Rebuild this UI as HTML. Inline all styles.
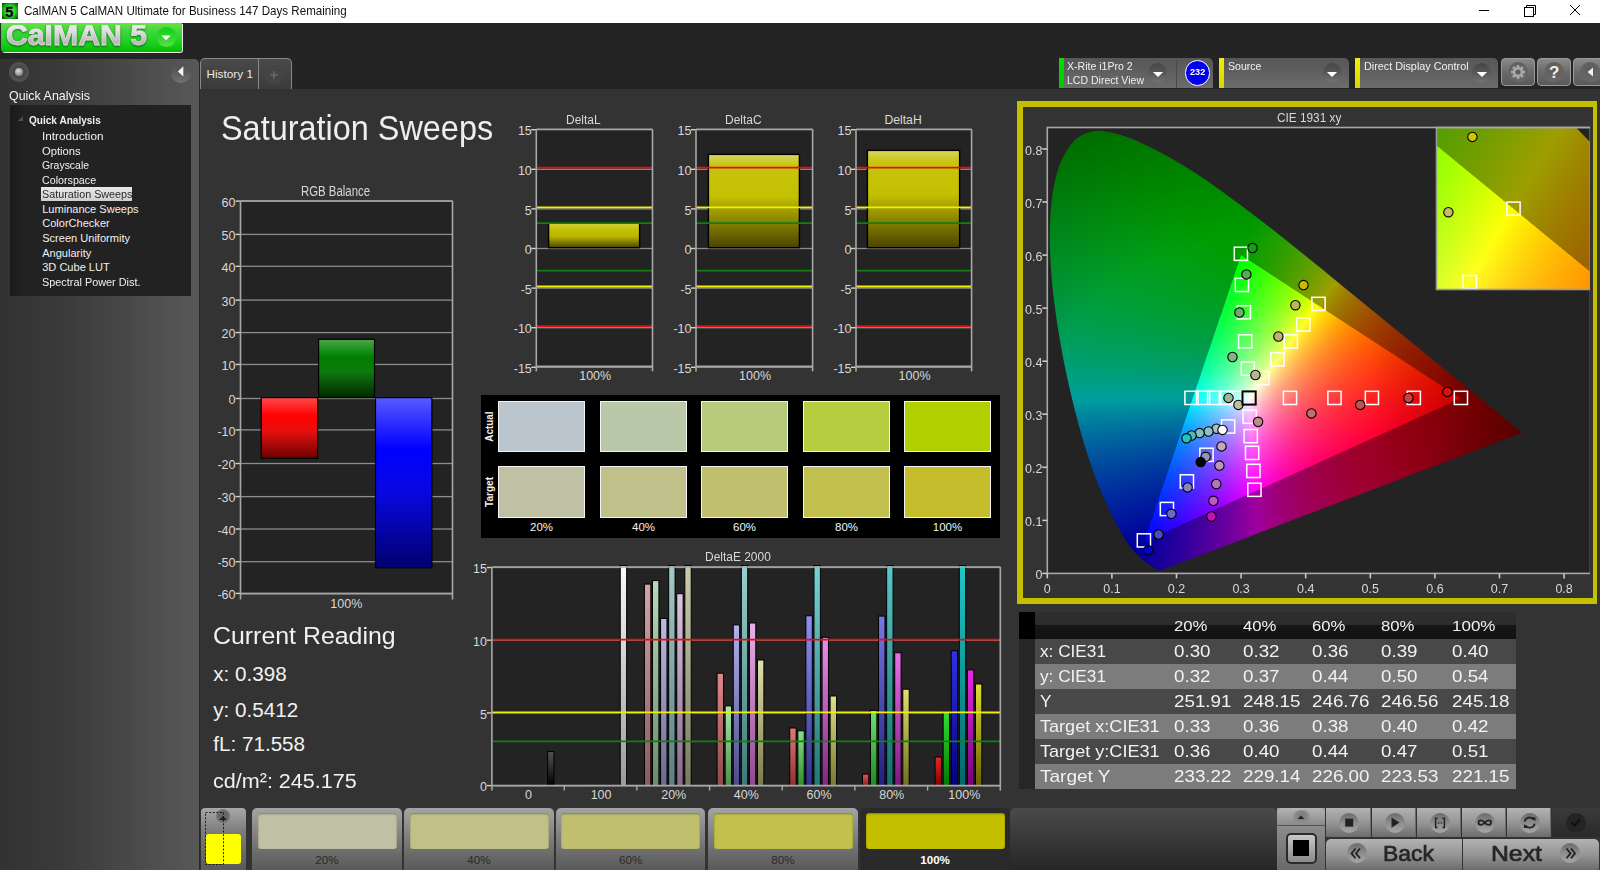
<!DOCTYPE html>
<html><head><meta charset="utf-8"><style>
html,body{margin:0;padding:0;width:1600px;height:870px;overflow:hidden;background:#242424;}
body{position:relative;font-family:"Liberation Sans",sans-serif;}
.t{position:absolute;white-space:nowrap;line-height:1;}
</style></head><body>
<div style="position:absolute;left:0.00px;top:0.00px;width:1600.00px;height:23.00px;background:#fff"></div>
<div style="position:absolute;left:2.00px;top:3.00px;width:16.00px;height:16.00px;background:radial-gradient(circle,#2ee02e 40%,#0a900a 75%,#063a06)"></div>
<div class="t" style="left:5.20px;top:4.53px;font-size:14.50px;color:#000;font-weight:bold;-webkit-text-stroke:0.4px #000;text-shadow:0 0 1.5px #8f8;">5</div>
<div class="t" style="left:24.00px;top:5.07px;font-size:12.79px;color:#111;transform:scaleX(0.9069);transform-origin:0 0;">CalMAN 5 CalMAN Ultimate for Business 147 Days Remaining</div>
<div style="position:absolute;left:1479.00px;top:10.00px;width:10.00px;height:1.00px;background:#000"></div>
<svg style="position:absolute;left:1520px;top:2px" width="20" height="20"><rect x="4.5" y="5.5" width="9" height="9" fill="none" stroke="#000"/><path d="M6.5 5.5V3.5H15.5V12.5H13.5" fill="none" stroke="#000"/></svg>
<svg style="position:absolute;left:1565px;top:0px" width="20" height="20"><path d="M5 5L15 15M15 5L5 15" stroke="#000" stroke-width="1"/></svg>
<div style="position:absolute;left:1.00px;top:23.00px;width:181.00px;height:29.00px;background:linear-gradient(#68e048,#3cd83c 30%,#18cc18 75%,#00bc00);border-radius:0 0 3px 3px;box-shadow:1px 1px 0 #e8e8e8"></div>
<div style="position:absolute;left:1px;top:24.5px;width:182px;height:27px;overflow:hidden"><div class="t" style="left:5.00px;top:-5.55px;font-size:29.00px;color:transparent;font-weight:bold;transform:scaleX(1.0417);transform-origin:0 0;background:linear-gradient(#fafafa 0%,#e4e4e4 35%,#b8b8b8 75%,#d8d8d8 100%);-webkit-background-clip:text;background-clip:text;-webkit-text-stroke:0.8px rgba(235,235,235,0.5);filter:drop-shadow(0 1px 1px rgba(0,0,0,0.5));padding-top:2px;">CalMAN 5</div></div>
<div style="position:absolute;left:156.50px;top:27.00px;width:19.50px;height:20.00px;border-radius:50%;background:linear-gradient(#12d012,#30d830 55%,#5ee048)"></div>
<svg style="position:absolute;left:156px;top:27px" width="20" height="20"><path d="M5.3 8.6L14.7 8.6L10 13.2Z" fill="#fff"/></svg>
<div style="position:absolute;left:0.00px;top:58.80px;width:199.00px;height:812.00px;background:linear-gradient(90deg,#323232,#3a3a3a 30%,#585858);border-radius:0 5px 0 0"></div>
<div style="position:absolute;left:199.00px;top:58.00px;width:1.00px;height:812.00px;background:#262626"></div>
<div style="position:absolute;left:9.00px;top:62.00px;width:20.00px;height:20.00px;border-radius:50%;background:radial-gradient(circle at 50% 50%,#444 30%,#555 70%,#4a4a4a)"></div>
<div style="position:absolute;left:15.00px;top:68.00px;width:8.00px;height:8.00px;border-radius:50%;background:radial-gradient(circle at 40% 35%,#ddd,#888 70%)"></div>
<div style="position:absolute;left:171.00px;top:63.00px;width:20.00px;height:20.00px;border-radius:50%;background:linear-gradient(#505050,#5c5c5c 50%,#727272)"></div>
<svg style="position:absolute;left:171px;top:62px" width="20" height="20"><path d="M12.3 4.3L12.3 14.5L6.9 9.4Z" fill="#f4f4f4"/></svg>
<div class="t" style="left:9.20px;top:90.37px;font-size:12.79px;color:#f4f4f4;transform:scaleX(0.9739);transform-origin:0 0;">Quick Analysis</div>
<div style="position:absolute;left:10.00px;top:105.00px;width:181.00px;height:191.00px;background:linear-gradient(90deg,#1a1a1a,#222 8%,#222)"></div>
<svg style="position:absolute;left:17px;top:114px" width="8" height="8"><path d="M6 2L6 7L1 7Z" fill="#505050"/></svg>
<div class="t" style="left:29.00px;top:114.03px;font-size:11.77px;color:#f0f0f0;font-weight:bold;transform:scaleX(0.8550);transform-origin:0 0;">Quick Analysis</div>
<div class="t" style="left:42.20px;top:130.95px;font-size:11.05px;color:#f0f0f0;transform:scaleX(1.0654);transform-origin:0 0;">Introduction</div>
<div class="t" style="left:42.20px;top:145.53px;font-size:11.05px;color:#f0f0f0;transform:scaleX(1.0166);transform-origin:0 0;">Options</div>
<div class="t" style="left:42.20px;top:160.11px;font-size:11.05px;color:#f0f0f0;transform:scaleX(0.9452);transform-origin:0 0;">Grayscale</div>
<div class="t" style="left:42.20px;top:174.69px;font-size:11.05px;color:#f0f0f0;transform:scaleX(0.9682);transform-origin:0 0;">Colorspace</div>
<div style="position:absolute;left:41.00px;top:187.00px;width:91.00px;height:14.00px;background:linear-gradient(#e8e8e8,#d0d0d0)"></div>
<div class="t" style="left:42.20px;top:189.27px;font-size:11.05px;color:#2a2a2a;transform:scaleX(0.9760);transform-origin:0 0;">Saturation Sweeps</div>
<div class="t" style="left:42.20px;top:203.85px;font-size:11.05px;color:#f0f0f0;">Luminance Sweeps</div>
<div class="t" style="left:42.20px;top:218.43px;font-size:11.05px;color:#f0f0f0;">ColorChecker</div>
<div class="t" style="left:42.20px;top:233.01px;font-size:11.05px;color:#f0f0f0;">Screen Uniformity</div>
<div class="t" style="left:42.20px;top:247.59px;font-size:11.05px;color:#f0f0f0;">Angularity</div>
<div class="t" style="left:42.20px;top:262.17px;font-size:11.05px;color:#f0f0f0;">3D Cube LUT</div>
<div class="t" style="left:42.20px;top:276.75px;font-size:11.05px;color:#f0f0f0;transform:scaleX(0.9843);transform-origin:0 0;">Spectral Power Dist.</div>
<div style="position:absolute;left:200.00px;top:89.00px;width:1400.00px;height:781.00px;background:#333"></div>
<div style="position:absolute;left:200.00px;top:58.00px;width:92.00px;height:31.00px;background:linear-gradient(#4a4a4a,#3a3a3a);border:1px solid #888;border-bottom:none;border-radius:5px 5px 0 0;box-sizing:border-box"></div>
<div style="position:absolute;left:258.00px;top:59.00px;width:1.00px;height:30.00px;background:#8a8a8a"></div>
<div class="t" style="left:206.50px;top:68.03px;font-size:11.77px;color:#e8e8e8;">History 1</div>
<div style="position:absolute;left:264.00px;top:65.00px;width:20.00px;height:20.00px;border-radius:50%;background:#444"></div>
<svg style="position:absolute;left:264px;top:65px" width="20" height="20"><path d="M10 6V14M6 10H14" stroke="#777" stroke-width="1"/></svg>
<div class="t" style="left:220.70px;top:110.12px;font-size:35.17px;color:#eeeeee;transform:scaleX(0.9222);transform-origin:0 0;">Saturation Sweeps</div>
<div class="t" style="left:300.90px;top:184.14px;font-size:14.24px;color:#d8d8d8;transform:scaleX(0.8007);transform-origin:0 0;">RGB Balance</div>
<svg style="position:absolute;left:200px;top:180px" width="270" height="440" viewBox="200 180 270 440">
<rect x="240.5" y="201.0" width="212.0" height="392.6" fill="#232323"/>
<rect x="240.5" y="200.45" width="212.0" height="1.3" fill="#8c8c8c"/>
<rect x="235.5" y="200.40" width="5" height="1.4" fill="#d0d0d0"/>
<rect x="240.5" y="233.75" width="212.0" height="1.3" fill="#8c8c8c"/>
<rect x="235.5" y="233.70" width="5" height="1.4" fill="#d0d0d0"/>
<rect x="240.5" y="265.65" width="212.0" height="1.3" fill="#8c8c8c"/>
<rect x="235.5" y="265.60" width="5" height="1.4" fill="#d0d0d0"/>
<rect x="240.5" y="299.45" width="212.0" height="1.3" fill="#8c8c8c"/>
<rect x="235.5" y="299.40" width="5" height="1.4" fill="#d0d0d0"/>
<rect x="240.5" y="331.95" width="212.0" height="1.3" fill="#8c8c8c"/>
<rect x="235.5" y="331.90" width="5" height="1.4" fill="#d0d0d0"/>
<rect x="240.5" y="363.80" width="212.0" height="1.3" fill="#8c8c8c"/>
<rect x="235.5" y="363.75" width="5" height="1.4" fill="#d0d0d0"/>
<rect x="240.5" y="397.85" width="212.0" height="1.3" fill="#8c8c8c"/>
<rect x="235.5" y="397.80" width="5" height="1.4" fill="#d0d0d0"/>
<rect x="240.5" y="429.25" width="212.0" height="1.3" fill="#8c8c8c"/>
<rect x="235.5" y="429.20" width="5" height="1.4" fill="#d0d0d0"/>
<rect x="240.5" y="462.85" width="212.0" height="1.3" fill="#8c8c8c"/>
<rect x="235.5" y="462.80" width="5" height="1.4" fill="#d0d0d0"/>
<rect x="240.5" y="495.95" width="212.0" height="1.3" fill="#8c8c8c"/>
<rect x="235.5" y="495.90" width="5" height="1.4" fill="#d0d0d0"/>
<rect x="240.5" y="528.35" width="212.0" height="1.3" fill="#8c8c8c"/>
<rect x="235.5" y="528.30" width="5" height="1.4" fill="#d0d0d0"/>
<rect x="240.5" y="561.05" width="212.0" height="1.3" fill="#8c8c8c"/>
<rect x="235.5" y="561.00" width="5" height="1.4" fill="#d0d0d0"/>
<rect x="240.5" y="592.75" width="212.0" height="1.3" fill="#8c8c8c"/>
<rect x="235.5" y="592.70" width="5" height="1.4" fill="#d0d0d0"/>
<linearGradient id="gr" x1="0" y1="0" x2="0" y2="1"><stop offset="0" stop-color="#ff4a4a"/><stop offset="0.3" stop-color="#ff0000"/><stop offset="0.55" stop-color="#e81010"/><stop offset="1" stop-color="#6a0000"/></linearGradient><rect x="261.2" y="397.6" width="56.4" height="60.7" fill="url(#gr)" stroke="#000" stroke-width="1.2"/>
<linearGradient id="gg" x1="0" y1="0" x2="0" y2="1"><stop offset="0" stop-color="#4aa84a"/><stop offset="0.3" stop-color="#008000"/><stop offset="0.55" stop-color="#0e7a0e"/><stop offset="1" stop-color="#002800"/></linearGradient><rect x="318.6" y="339.3" width="55.9" height="58.3" fill="url(#gg)" stroke="#000" stroke-width="1.2"/>
<linearGradient id="gb" x1="0" y1="0" x2="0" y2="1"><stop offset="0" stop-color="#5a5aff"/><stop offset="0.3" stop-color="#0000ff"/><stop offset="0.55" stop-color="#0808e0"/><stop offset="1" stop-color="#000070"/></linearGradient><rect x="375.5" y="397.6" width="56.4" height="170.2" fill="url(#gb)" stroke="#000" stroke-width="1.2"/>
<line x1="240.5" x2="240.5" y1="201.0" y2="599.6" stroke="#a8a8a8" stroke-width="1.6"/>
<line x1="452.5" x2="452.5" y1="201.0" y2="599.6" stroke="#a8a8a8" stroke-width="1.6"/>
<line x1="240.5" x2="452.5" y1="593.6" y2="593.6" stroke="#a8a8a8" stroke-width="1.6"/>
<line x1="240.5" x2="452.5" y1="201.0" y2="201.0" stroke="#a8a8a8" stroke-width="1.6"/>
</svg>
<div class="t" style="left:221.60px;top:196.72px;font-size:12.50px;color:#d8d8d8;">60</div>
<div class="t" style="left:221.60px;top:230.02px;font-size:12.50px;color:#d8d8d8;">50</div>
<div class="t" style="left:221.60px;top:261.92px;font-size:12.50px;color:#d8d8d8;">40</div>
<div class="t" style="left:221.60px;top:295.72px;font-size:12.50px;color:#d8d8d8;">30</div>
<div class="t" style="left:221.60px;top:328.22px;font-size:12.50px;color:#d8d8d8;">20</div>
<div class="t" style="left:221.60px;top:360.07px;font-size:12.50px;color:#d8d8d8;">10</div>
<div class="t" style="left:228.55px;top:394.12px;font-size:12.50px;color:#d8d8d8;">0</div>
<div class="t" style="left:217.43px;top:425.52px;font-size:12.50px;color:#d8d8d8;">-10</div>
<div class="t" style="left:217.43px;top:459.12px;font-size:12.50px;color:#d8d8d8;">-20</div>
<div class="t" style="left:217.43px;top:492.22px;font-size:12.50px;color:#d8d8d8;">-30</div>
<div class="t" style="left:217.43px;top:524.62px;font-size:12.50px;color:#d8d8d8;">-40</div>
<div class="t" style="left:217.43px;top:557.32px;font-size:12.50px;color:#d8d8d8;">-50</div>
<div class="t" style="left:217.43px;top:589.02px;font-size:12.50px;color:#d8d8d8;">-60</div>
<div class="t" style="left:330.31px;top:598.22px;font-size:12.50px;color:#d8d8d8;">100%</div>
<svg style="position:absolute;left:500px;top:100px" width="500" height="300" viewBox="500 100 500 300">
<defs><linearGradient id="gy" x1="0" y1="0" x2="0" y2="1"><stop offset="0" stop-color="#d8d860"/><stop offset="0.12" stop-color="#c8c410"/><stop offset="0.45" stop-color="#c4c000"/><stop offset="1" stop-color="#4a4400"/></linearGradient><linearGradient id="gyL" x1="0" y1="0" x2="0" y2="1"><stop offset="0" stop-color="#d0d040"/><stop offset="0.3" stop-color="#c4c000"/><stop offset="0.55" stop-color="#bab400"/><stop offset="1" stop-color="#4a4400"/></linearGradient></defs>
<rect x="536.3" y="129.3" width="116.2" height="237.1" fill="#232323"/>
<rect x="536.3" y="129.05" width="116.2" height="1.3" fill="#8c8c8c"/>
<rect x="531.3" y="129.00" width="5" height="1.4" fill="#d0d0d0"/>
<rect x="536.3" y="168.65" width="116.2" height="1.3" fill="#8c8c8c"/>
<rect x="531.3" y="168.60" width="5" height="1.4" fill="#d0d0d0"/>
<rect x="536.3" y="208.25" width="116.2" height="1.3" fill="#8c8c8c"/>
<rect x="531.3" y="208.20" width="5" height="1.4" fill="#d0d0d0"/>
<rect x="536.3" y="247.85" width="116.2" height="1.3" fill="#8c8c8c"/>
<rect x="531.3" y="247.80" width="5" height="1.4" fill="#d0d0d0"/>
<rect x="536.3" y="287.45" width="116.2" height="1.3" fill="#8c8c8c"/>
<rect x="531.3" y="287.40" width="5" height="1.4" fill="#d0d0d0"/>
<rect x="536.3" y="327.05" width="116.2" height="1.3" fill="#8c8c8c"/>
<rect x="531.3" y="327.00" width="5" height="1.4" fill="#d0d0d0"/>
<rect x="536.3" y="366.65" width="116.2" height="1.3" fill="#8c8c8c"/>
<rect x="531.3" y="366.60" width="5" height="1.4" fill="#d0d0d0"/>
<rect x="548.6" y="223.0" width="91.0" height="24.7" fill="url(#gyL)" stroke="#000" stroke-width="1.4"/>
<line x1="536.3" x2="652.5" y1="167.7" y2="167.7" stroke="#e01010" stroke-width="1.8"/>
<line x1="536.3" x2="652.5" y1="326.1" y2="326.1" stroke="#e01010" stroke-width="1.8"/>
<line x1="536.3" x2="652.5" y1="207.3" y2="207.3" stroke="#f0f000" stroke-width="1.8"/>
<line x1="536.3" x2="652.5" y1="286.5" y2="286.5" stroke="#f0f000" stroke-width="1.8"/>
<line x1="536.3" x2="652.5" y1="223.1" y2="223.1" stroke="#108010" stroke-width="1.8"/>
<line x1="536.3" x2="652.5" y1="270.7" y2="270.7" stroke="#108010" stroke-width="1.8"/>
<line x1="536.3" x2="536.3" y1="129.3" y2="371.4" stroke="#a8a8a8" stroke-width="1.6"/>
<line x1="652.5" x2="652.5" y1="129.3" y2="371.4" stroke="#a8a8a8" stroke-width="1.6"/>
<line x1="536.3" x2="652.5" y1="366.4" y2="366.4" stroke="#a8a8a8" stroke-width="1.6"/>
<line x1="536.3" x2="652.5" y1="129.3" y2="129.3" stroke="#a8a8a8" stroke-width="1.6"/>
<rect x="696.0" y="129.3" width="116.6" height="237.1" fill="#232323"/>
<rect x="696.0" y="129.05" width="116.6" height="1.3" fill="#8c8c8c"/>
<rect x="691.0" y="129.00" width="5" height="1.4" fill="#d0d0d0"/>
<rect x="696.0" y="168.65" width="116.6" height="1.3" fill="#8c8c8c"/>
<rect x="691.0" y="168.60" width="5" height="1.4" fill="#d0d0d0"/>
<rect x="696.0" y="208.25" width="116.6" height="1.3" fill="#8c8c8c"/>
<rect x="691.0" y="208.20" width="5" height="1.4" fill="#d0d0d0"/>
<rect x="696.0" y="247.85" width="116.6" height="1.3" fill="#8c8c8c"/>
<rect x="691.0" y="247.80" width="5" height="1.4" fill="#d0d0d0"/>
<rect x="696.0" y="287.45" width="116.6" height="1.3" fill="#8c8c8c"/>
<rect x="691.0" y="287.40" width="5" height="1.4" fill="#d0d0d0"/>
<rect x="696.0" y="327.05" width="116.6" height="1.3" fill="#8c8c8c"/>
<rect x="691.0" y="327.00" width="5" height="1.4" fill="#d0d0d0"/>
<rect x="696.0" y="366.65" width="116.6" height="1.3" fill="#8c8c8c"/>
<rect x="691.0" y="366.60" width="5" height="1.4" fill="#d0d0d0"/>
<rect x="708.4" y="154.4" width="91.0" height="93.3" fill="url(#gy)" stroke="#000" stroke-width="1.4"/>
<line x1="696.0" x2="812.6" y1="167.7" y2="167.7" stroke="#e01010" stroke-width="1.8"/>
<line x1="696.0" x2="812.6" y1="326.1" y2="326.1" stroke="#e01010" stroke-width="1.8"/>
<line x1="696.0" x2="812.6" y1="207.3" y2="207.3" stroke="#f0f000" stroke-width="1.8"/>
<line x1="696.0" x2="812.6" y1="286.5" y2="286.5" stroke="#f0f000" stroke-width="1.8"/>
<line x1="696.0" x2="812.6" y1="223.1" y2="223.1" stroke="#108010" stroke-width="1.8"/>
<line x1="696.0" x2="812.6" y1="270.7" y2="270.7" stroke="#108010" stroke-width="1.8"/>
<line x1="696.0" x2="696.0" y1="129.3" y2="371.4" stroke="#a8a8a8" stroke-width="1.6"/>
<line x1="812.6" x2="812.6" y1="129.3" y2="371.4" stroke="#a8a8a8" stroke-width="1.6"/>
<line x1="696.0" x2="812.6" y1="366.4" y2="366.4" stroke="#a8a8a8" stroke-width="1.6"/>
<line x1="696.0" x2="812.6" y1="129.3" y2="129.3" stroke="#a8a8a8" stroke-width="1.6"/>
<rect x="856.0" y="129.3" width="115.6" height="237.1" fill="#232323"/>
<rect x="856.0" y="129.05" width="115.6" height="1.3" fill="#8c8c8c"/>
<rect x="851.0" y="129.00" width="5" height="1.4" fill="#d0d0d0"/>
<rect x="856.0" y="168.65" width="115.6" height="1.3" fill="#8c8c8c"/>
<rect x="851.0" y="168.60" width="5" height="1.4" fill="#d0d0d0"/>
<rect x="856.0" y="208.25" width="115.6" height="1.3" fill="#8c8c8c"/>
<rect x="851.0" y="208.20" width="5" height="1.4" fill="#d0d0d0"/>
<rect x="856.0" y="247.85" width="115.6" height="1.3" fill="#8c8c8c"/>
<rect x="851.0" y="247.80" width="5" height="1.4" fill="#d0d0d0"/>
<rect x="856.0" y="287.45" width="115.6" height="1.3" fill="#8c8c8c"/>
<rect x="851.0" y="287.40" width="5" height="1.4" fill="#d0d0d0"/>
<rect x="856.0" y="327.05" width="115.6" height="1.3" fill="#8c8c8c"/>
<rect x="851.0" y="327.00" width="5" height="1.4" fill="#d0d0d0"/>
<rect x="856.0" y="366.65" width="115.6" height="1.3" fill="#8c8c8c"/>
<rect x="851.0" y="366.60" width="5" height="1.4" fill="#d0d0d0"/>
<rect x="867.4" y="150.4" width="92.2" height="97.3" fill="url(#gy)" stroke="#000" stroke-width="1.4"/>
<line x1="856.0" x2="971.6" y1="167.7" y2="167.7" stroke="#e01010" stroke-width="1.8"/>
<line x1="856.0" x2="971.6" y1="326.1" y2="326.1" stroke="#e01010" stroke-width="1.8"/>
<line x1="856.0" x2="971.6" y1="207.3" y2="207.3" stroke="#f0f000" stroke-width="1.8"/>
<line x1="856.0" x2="971.6" y1="286.5" y2="286.5" stroke="#f0f000" stroke-width="1.8"/>
<line x1="856.0" x2="971.6" y1="223.1" y2="223.1" stroke="#108010" stroke-width="1.8"/>
<line x1="856.0" x2="971.6" y1="270.7" y2="270.7" stroke="#108010" stroke-width="1.8"/>
<line x1="856.0" x2="856.0" y1="129.3" y2="371.4" stroke="#a8a8a8" stroke-width="1.6"/>
<line x1="971.6" x2="971.6" y1="129.3" y2="371.4" stroke="#a8a8a8" stroke-width="1.6"/>
<line x1="856.0" x2="971.6" y1="366.4" y2="366.4" stroke="#a8a8a8" stroke-width="1.6"/>
<line x1="856.0" x2="971.6" y1="129.3" y2="129.3" stroke="#a8a8a8" stroke-width="1.6"/>
</svg>
<div class="t" style="left:566.00px;top:113.66px;font-size:12.21px;color:#d8d8d8;transform:scaleX(0.9804);transform-origin:0 0;">DeltaL</div>
<div class="t" style="left:517.90px;top:125.32px;font-size:12.50px;color:#d8d8d8;">15</div>
<div class="t" style="left:517.90px;top:164.92px;font-size:12.50px;color:#d8d8d8;">10</div>
<div class="t" style="left:524.85px;top:204.52px;font-size:12.50px;color:#d8d8d8;">5</div>
<div class="t" style="left:524.85px;top:244.12px;font-size:12.50px;color:#d8d8d8;">0</div>
<div class="t" style="left:520.68px;top:283.72px;font-size:12.50px;color:#d8d8d8;">-5</div>
<div class="t" style="left:513.73px;top:323.32px;font-size:12.50px;color:#d8d8d8;">-10</div>
<div class="t" style="left:513.73px;top:362.92px;font-size:12.50px;color:#d8d8d8;">-15</div>
<div class="t" style="left:579.21px;top:370.22px;font-size:12.50px;color:#d8d8d8;">100%</div>
<div class="t" style="left:725.00px;top:113.66px;font-size:12.21px;color:#d8d8d8;transform:scaleX(0.9807);transform-origin:0 0;">DeltaC</div>
<div class="t" style="left:677.60px;top:125.32px;font-size:12.50px;color:#d8d8d8;">15</div>
<div class="t" style="left:677.60px;top:164.92px;font-size:12.50px;color:#d8d8d8;">10</div>
<div class="t" style="left:684.55px;top:204.52px;font-size:12.50px;color:#d8d8d8;">5</div>
<div class="t" style="left:684.55px;top:244.12px;font-size:12.50px;color:#d8d8d8;">0</div>
<div class="t" style="left:680.38px;top:283.72px;font-size:12.50px;color:#d8d8d8;">-5</div>
<div class="t" style="left:673.43px;top:323.32px;font-size:12.50px;color:#d8d8d8;">-10</div>
<div class="t" style="left:673.43px;top:362.92px;font-size:12.50px;color:#d8d8d8;">-15</div>
<div class="t" style="left:739.11px;top:370.22px;font-size:12.50px;color:#d8d8d8;">100%</div>
<div class="t" style="left:884.40px;top:113.66px;font-size:12.21px;color:#d8d8d8;">DeltaH</div>
<div class="t" style="left:837.60px;top:125.32px;font-size:12.50px;color:#d8d8d8;">15</div>
<div class="t" style="left:837.60px;top:164.92px;font-size:12.50px;color:#d8d8d8;">10</div>
<div class="t" style="left:844.55px;top:204.52px;font-size:12.50px;color:#d8d8d8;">5</div>
<div class="t" style="left:844.55px;top:244.12px;font-size:12.50px;color:#d8d8d8;">0</div>
<div class="t" style="left:840.38px;top:283.72px;font-size:12.50px;color:#d8d8d8;">-5</div>
<div class="t" style="left:833.43px;top:323.32px;font-size:12.50px;color:#d8d8d8;">-10</div>
<div class="t" style="left:833.43px;top:362.92px;font-size:12.50px;color:#d8d8d8;">-15</div>
<div class="t" style="left:898.61px;top:370.22px;font-size:12.50px;color:#d8d8d8;">100%</div>
<div style="position:absolute;left:481.00px;top:395.00px;width:519.00px;height:143.00px;background:#000"></div>
<div style="position:absolute;left:498.00px;top:401.20px;width:87.00px;height:50.50px;background:#bac5ce;border:1.5px solid #f4f4f4;box-sizing:border-box"></div>
<div style="position:absolute;left:498.00px;top:466.00px;width:87.00px;height:52.00px;background:#c0c0a4;border:1.5px solid #f4f4f4;box-sizing:border-box"></div>
<div class="t" style="left:530.01px;top:522.28px;font-size:11.48px;color:#f4f4f4;">20%</div>
<div style="position:absolute;left:600.00px;top:401.20px;width:87.00px;height:50.50px;background:#b8c8a8;border:1.5px solid #f4f4f4;box-sizing:border-box"></div>
<div style="position:absolute;left:600.00px;top:466.00px;width:87.00px;height:52.00px;background:#c0c08a;border:1.5px solid #f4f4f4;box-sizing:border-box"></div>
<div class="t" style="left:632.01px;top:522.28px;font-size:11.48px;color:#f4f4f4;">40%</div>
<div style="position:absolute;left:701.00px;top:401.20px;width:87.00px;height:50.50px;background:#b6cb7c;border:1.5px solid #f4f4f4;box-sizing:border-box"></div>
<div style="position:absolute;left:701.00px;top:466.00px;width:87.00px;height:52.00px;background:#c0bf6e;border:1.5px solid #f4f4f4;box-sizing:border-box"></div>
<div class="t" style="left:733.01px;top:522.28px;font-size:11.48px;color:#f4f4f4;">60%</div>
<div style="position:absolute;left:803.00px;top:401.20px;width:87.00px;height:50.50px;background:#b5cd3e;border:1.5px solid #f4f4f4;box-sizing:border-box"></div>
<div style="position:absolute;left:803.00px;top:466.00px;width:87.00px;height:52.00px;background:#c2c04e;border:1.5px solid #f4f4f4;box-sizing:border-box"></div>
<div class="t" style="left:835.01px;top:522.28px;font-size:11.48px;color:#f4f4f4;">80%</div>
<div style="position:absolute;left:904.00px;top:401.20px;width:87.00px;height:50.50px;background:#b2d000;border:1.5px solid #f4f4f4;box-sizing:border-box"></div>
<div style="position:absolute;left:904.00px;top:466.00px;width:87.00px;height:52.00px;background:#c6bd2c;border:1.5px solid #f4f4f4;box-sizing:border-box"></div>
<div class="t" style="left:932.82px;top:522.28px;font-size:11.48px;color:#f4f4f4;">100%</div>
<div class="t" style="left:481px;top:420px;width:14px;height:14px;"></div>
<svg style="position:absolute;left:481px;top:400px" width="16" height="120"><text x="0" y="0" transform="translate(12,41.7) rotate(-90)" font-family="Liberation Sans" font-weight="bold" font-size="10.5" fill="#f0f0f0" textLength="30.2" lengthAdjust="spacingAndGlyphs">Actual</text><text transform="translate(12,107) rotate(-90)" font-family="Liberation Sans" font-weight="bold" font-size="10.5" fill="#f0f0f0" textLength="30" lengthAdjust="spacingAndGlyphs">Target</text></svg>
<svg style="position:absolute;left:470px;top:540px" width="540" height="270" viewBox="470 540 540 270">
<rect x="491.9" y="567.0" width="508.4" height="218.6" fill="#232323"/>
<rect x="491.9" y="566.85" width="508.4" height="1.3" fill="#8c8c8c"/>
<rect x="486.9" y="566.80" width="5" height="1.4" fill="#d0d0d0"/>
<rect x="491.9" y="639.55" width="508.4" height="1.3" fill="#8c8c8c"/>
<rect x="486.9" y="639.50" width="5" height="1.4" fill="#d0d0d0"/>
<rect x="491.9" y="712.25" width="508.4" height="1.3" fill="#8c8c8c"/>
<rect x="486.9" y="712.20" width="5" height="1.4" fill="#d0d0d0"/>
<rect x="491.9" y="784.95" width="508.4" height="1.3" fill="#8c8c8c"/>
<rect x="486.9" y="784.90" width="5" height="1.4" fill="#d0d0d0"/>
<defs><linearGradient id="d0" x1="0" y1="0" x2="0" y2="1"><stop offset="0" stop-color="#555555"/><stop offset="1" stop-color="#000000"/></linearGradient><linearGradient id="d1" x1="0" y1="0" x2="0" y2="1"><stop offset="0" stop-color="#fafafa"/><stop offset="1" stop-color="#9a9a9a"/></linearGradient><linearGradient id="d2" x1="0" y1="0" x2="0" y2="1"><stop offset="0" stop-color="#d4a4a4"/><stop offset="1" stop-color="#8a5a5a"/></linearGradient><linearGradient id="d3" x1="0" y1="0" x2="0" y2="1"><stop offset="0" stop-color="#b8d8b8"/><stop offset="1" stop-color="#6a8a6a"/></linearGradient><linearGradient id="d4" x1="0" y1="0" x2="0" y2="1"><stop offset="0" stop-color="#bcbce0"/><stop offset="1" stop-color="#6a6a90"/></linearGradient><linearGradient id="d5" x1="0" y1="0" x2="0" y2="1"><stop offset="0" stop-color="#a8c8c8"/><stop offset="1" stop-color="#5a8080"/></linearGradient><linearGradient id="d6" x1="0" y1="0" x2="0" y2="1"><stop offset="0" stop-color="#dcc4e0"/><stop offset="1" stop-color="#8a6a8a"/></linearGradient><linearGradient id="d7" x1="0" y1="0" x2="0" y2="1"><stop offset="0" stop-color="#ccccac"/><stop offset="1" stop-color="#7a7a62"/></linearGradient><linearGradient id="d8" x1="0" y1="0" x2="0" y2="1"><stop offset="0" stop-color="#e08888"/><stop offset="1" stop-color="#904848"/></linearGradient><linearGradient id="d9" x1="0" y1="0" x2="0" y2="1"><stop offset="0" stop-color="#a8e8a8"/><stop offset="1" stop-color="#4a904a"/></linearGradient><linearGradient id="d10" x1="0" y1="0" x2="0" y2="1"><stop offset="0" stop-color="#b0b0f0"/><stop offset="1" stop-color="#4a4a90"/></linearGradient><linearGradient id="d11" x1="0" y1="0" x2="0" y2="1"><stop offset="0" stop-color="#98d0d0"/><stop offset="1" stop-color="#407878"/></linearGradient><linearGradient id="d12" x1="0" y1="0" x2="0" y2="1"><stop offset="0" stop-color="#e8b0e8"/><stop offset="1" stop-color="#904890"/></linearGradient><linearGradient id="d13" x1="0" y1="0" x2="0" y2="1"><stop offset="0" stop-color="#e0e0a8"/><stop offset="1" stop-color="#7a7a48"/></linearGradient><linearGradient id="d14" x1="0" y1="0" x2="0" y2="1"><stop offset="0" stop-color="#e07878"/><stop offset="1" stop-color="#903030"/></linearGradient><linearGradient id="d15" x1="0" y1="0" x2="0" y2="1"><stop offset="0" stop-color="#88e088"/><stop offset="1" stop-color="#309030"/></linearGradient><linearGradient id="d16" x1="0" y1="0" x2="0" y2="1"><stop offset="0" stop-color="#9090f0"/><stop offset="1" stop-color="#303090"/></linearGradient><linearGradient id="d17" x1="0" y1="0" x2="0" y2="1"><stop offset="0" stop-color="#78d0d0"/><stop offset="1" stop-color="#207878"/></linearGradient><linearGradient id="d18" x1="0" y1="0" x2="0" y2="1"><stop offset="0" stop-color="#e890e8"/><stop offset="1" stop-color="#802880"/></linearGradient><linearGradient id="d19" x1="0" y1="0" x2="0" y2="1"><stop offset="0" stop-color="#e0e088"/><stop offset="1" stop-color="#787830"/></linearGradient><linearGradient id="d20" x1="0" y1="0" x2="0" y2="1"><stop offset="0" stop-color="#e05858"/><stop offset="1" stop-color="#902020"/></linearGradient><linearGradient id="d21" x1="0" y1="0" x2="0" y2="1"><stop offset="0" stop-color="#70e070"/><stop offset="1" stop-color="#208a20"/></linearGradient><linearGradient id="d22" x1="0" y1="0" x2="0" y2="1"><stop offset="0" stop-color="#7878e8"/><stop offset="1" stop-color="#202080"/></linearGradient><linearGradient id="d23" x1="0" y1="0" x2="0" y2="1"><stop offset="0" stop-color="#58c8c8"/><stop offset="1" stop-color="#107070"/></linearGradient><linearGradient id="d24" x1="0" y1="0" x2="0" y2="1"><stop offset="0" stop-color="#e870e8"/><stop offset="1" stop-color="#801880"/></linearGradient><linearGradient id="d25" x1="0" y1="0" x2="0" y2="1"><stop offset="0" stop-color="#e0e070"/><stop offset="1" stop-color="#707020"/></linearGradient><linearGradient id="d26" x1="0" y1="0" x2="0" y2="1"><stop offset="0" stop-color="#e82828"/><stop offset="1" stop-color="#800000"/></linearGradient><linearGradient id="d27" x1="0" y1="0" x2="0" y2="1"><stop offset="0" stop-color="#30e030"/><stop offset="1" stop-color="#007a00"/></linearGradient><linearGradient id="d28" x1="0" y1="0" x2="0" y2="1"><stop offset="0" stop-color="#3030e8"/><stop offset="1" stop-color="#000080"/></linearGradient><linearGradient id="d29" x1="0" y1="0" x2="0" y2="1"><stop offset="0" stop-color="#20c8c8"/><stop offset="1" stop-color="#006868"/></linearGradient><linearGradient id="d30" x1="0" y1="0" x2="0" y2="1"><stop offset="0" stop-color="#e828e8"/><stop offset="1" stop-color="#780078"/></linearGradient><linearGradient id="d31" x1="0" y1="0" x2="0" y2="1"><stop offset="0" stop-color="#e0e030"/><stop offset="1" stop-color="#686000"/></linearGradient></defs>
<rect x="547.58" y="751.6" width="6.4" height="34.0" fill="url(#d0)" stroke="#000" stroke-width="1"/>
<rect x="620.24" y="565.5" width="6.4" height="220.1" fill="url(#d1)" stroke="#000" stroke-width="1"/>
<rect x="644.42" y="584.1" width="6.4" height="201.5" fill="url(#d2)" stroke="#000" stroke-width="1"/>
<rect x="652.50" y="580.6" width="6.4" height="205.0" fill="url(#d3)" stroke="#000" stroke-width="1"/>
<rect x="660.58" y="618.4" width="6.4" height="167.2" fill="url(#d4)" stroke="#000" stroke-width="1"/>
<rect x="668.66" y="565.5" width="6.4" height="220.1" fill="url(#d5)" stroke="#000" stroke-width="1"/>
<rect x="676.74" y="593.7" width="6.4" height="191.9" fill="url(#d6)" stroke="#000" stroke-width="1"/>
<rect x="684.82" y="565.5" width="6.4" height="220.1" fill="url(#d7)" stroke="#000" stroke-width="1"/>
<rect x="717.08" y="673.2" width="6.4" height="112.4" fill="url(#d8)" stroke="#000" stroke-width="1"/>
<rect x="725.16" y="705.9" width="6.4" height="79.7" fill="url(#d9)" stroke="#000" stroke-width="1"/>
<rect x="733.24" y="624.9" width="6.4" height="160.7" fill="url(#d10)" stroke="#000" stroke-width="1"/>
<rect x="741.32" y="565.5" width="6.4" height="220.1" fill="url(#d11)" stroke="#000" stroke-width="1"/>
<rect x="749.40" y="623.0" width="6.4" height="162.6" fill="url(#d12)" stroke="#000" stroke-width="1"/>
<rect x="757.48" y="660.0" width="6.4" height="125.6" fill="url(#d13)" stroke="#000" stroke-width="1"/>
<rect x="789.74" y="728.0" width="6.4" height="57.6" fill="url(#d14)" stroke="#000" stroke-width="1"/>
<rect x="797.82" y="730.8" width="6.4" height="54.8" fill="url(#d15)" stroke="#000" stroke-width="1"/>
<rect x="805.90" y="615.8" width="6.4" height="169.8" fill="url(#d16)" stroke="#000" stroke-width="1"/>
<rect x="813.98" y="565.5" width="6.4" height="220.1" fill="url(#d17)" stroke="#000" stroke-width="1"/>
<rect x="822.06" y="637.3" width="6.4" height="148.3" fill="url(#d18)" stroke="#000" stroke-width="1"/>
<rect x="830.14" y="696.0" width="6.4" height="89.6" fill="url(#d19)" stroke="#000" stroke-width="1"/>
<rect x="862.40" y="774.1" width="6.4" height="11.5" fill="url(#d20)" stroke="#000" stroke-width="1"/>
<rect x="870.48" y="710.4" width="6.4" height="75.2" fill="url(#d21)" stroke="#000" stroke-width="1"/>
<rect x="878.56" y="616.1" width="6.4" height="169.5" fill="url(#d22)" stroke="#000" stroke-width="1"/>
<rect x="886.64" y="565.5" width="6.4" height="220.1" fill="url(#d23)" stroke="#000" stroke-width="1"/>
<rect x="894.72" y="652.8" width="6.4" height="132.8" fill="url(#d24)" stroke="#000" stroke-width="1"/>
<rect x="902.80" y="689.2" width="6.4" height="96.4" fill="url(#d25)" stroke="#000" stroke-width="1"/>
<rect x="935.06" y="757.0" width="6.4" height="28.6" fill="url(#d26)" stroke="#000" stroke-width="1"/>
<rect x="943.14" y="712.0" width="6.4" height="73.6" fill="url(#d27)" stroke="#000" stroke-width="1"/>
<rect x="951.22" y="650.7" width="6.4" height="134.9" fill="url(#d28)" stroke="#000" stroke-width="1"/>
<rect x="959.30" y="565.5" width="6.4" height="220.1" fill="url(#d29)" stroke="#000" stroke-width="1"/>
<rect x="967.38" y="669.9" width="6.4" height="115.7" fill="url(#d30)" stroke="#000" stroke-width="1"/>
<rect x="975.46" y="684.0" width="6.4" height="101.6" fill="url(#d31)" stroke="#000" stroke-width="1"/>
<line x1="491.9" x2="1000.3" y1="639.6" y2="639.6" stroke="#e01010" stroke-width="1.8"/>
<line x1="491.9" x2="1000.3" y1="712.3" y2="712.3" stroke="#f0f000" stroke-width="1.8"/>
<line x1="491.9" x2="1000.3" y1="741.4" y2="741.4" stroke="#108010" stroke-width="1.8"/>
<line x1="491.9" x2="1000.3" y1="785.6" y2="785.6" stroke="#a8a8a8" stroke-width="1.6"/>
<line x1="491.9" x2="1000.3" y1="567.0" y2="567.0" stroke="#a8a8a8" stroke-width="1.6"/>
<line x1="491.9" x2="491.9" y1="567.0" y2="790.6" stroke="#a8a8a8" stroke-width="1.6"/>
<line x1="1000.3" x2="1000.3" y1="567.0" y2="790.6" stroke="#a8a8a8" stroke-width="1.6"/>
<line x1="564.3" x2="564.3" y1="785.6" y2="790.6" stroke="#a8a8a8" stroke-width="1.4"/>
<line x1="636.9" x2="636.9" y1="785.6" y2="790.6" stroke="#a8a8a8" stroke-width="1.4"/>
<line x1="709.6" x2="709.6" y1="785.6" y2="790.6" stroke="#a8a8a8" stroke-width="1.4"/>
<line x1="782.2" x2="782.2" y1="785.6" y2="790.6" stroke="#a8a8a8" stroke-width="1.4"/>
<line x1="854.9" x2="854.9" y1="785.6" y2="790.6" stroke="#a8a8a8" stroke-width="1.4"/>
<line x1="927.6" x2="927.6" y1="785.6" y2="790.6" stroke="#a8a8a8" stroke-width="1.4"/>
</svg>
<div class="t" style="left:704.60px;top:551.32px;font-size:12.50px;color:#d8d8d8;transform:scaleX(0.9564);transform-origin:0 0;">DeltaE 2000</div>
<div class="t" style="left:473.00px;top:563.12px;font-size:12.50px;color:#d8d8d8;">15</div>
<div class="t" style="left:473.00px;top:635.82px;font-size:12.50px;color:#d8d8d8;">10</div>
<div class="t" style="left:479.95px;top:708.52px;font-size:12.50px;color:#d8d8d8;">5</div>
<div class="t" style="left:479.95px;top:781.22px;font-size:12.50px;color:#d8d8d8;">0</div>
<div class="t" style="left:524.92px;top:789.22px;font-size:12.50px;color:#d8d8d8;">0</div>
<div class="t" style="left:590.63px;top:789.22px;font-size:12.50px;color:#d8d8d8;">100</div>
<div class="t" style="left:661.21px;top:789.22px;font-size:12.50px;color:#d8d8d8;">20%</div>
<div class="t" style="left:733.87px;top:789.22px;font-size:12.50px;color:#d8d8d8;">40%</div>
<div class="t" style="left:806.53px;top:789.22px;font-size:12.50px;color:#d8d8d8;">60%</div>
<div class="t" style="left:879.19px;top:789.22px;font-size:12.50px;color:#d8d8d8;">80%</div>
<div class="t" style="left:948.37px;top:789.22px;font-size:12.50px;color:#d8d8d8;">100%</div>
<div class="t" style="left:213.30px;top:623.62px;font-size:23.84px;color:#f2f2f2;transform:scaleX(1.0445);transform-origin:0 0;">Current Reading</div>
<div class="t" style="left:213.30px;top:663.93px;font-size:20.64px;color:#f2f2f2;">x: 0.398</div>
<div class="t" style="left:213.30px;top:699.93px;font-size:20.64px;color:#f2f2f2;">y: 0.5412</div>
<div class="t" style="left:213.30px;top:734.43px;font-size:20.64px;color:#f2f2f2;">fL: 71.558</div>
<div class="t" style="left:213.30px;top:770.53px;font-size:20.64px;color:#f2f2f2;transform:scaleX(1.0452);transform-origin:0 0;">cd/m²: 245.175</div>
<div style="position:absolute;left:1058.60px;top:58.20px;width:154.00px;height:30.00px;background:linear-gradient(#575757,#5e5e5e 40%,#6c6c6c);border-radius:0 5px 0 0"></div>
<div style="position:absolute;left:1058.60px;top:58.20px;width:5.50px;height:30.00px;background:linear-gradient(#00e000,#00c800)"></div>
<div class="t" style="left:1067.10px;top:60.16px;font-size:11.63px;color:#f0f0f0;transform:scaleX(0.9063);transform-origin:0 0;">X-Rite i1Pro 2</div>
<div class="t" style="left:1067.10px;top:74.06px;font-size:11.63px;color:#f0f0f0;transform:scaleX(0.9050);transform-origin:0 0;">LCD Direct View</div>
<div style="position:absolute;left:1148.20px;top:63.20px;width:19.00px;height:20.00px;border-radius:50%;background:linear-gradient(#464646,#585858 50%,#747474)"></div><svg style="position:absolute;left:1147.7px;top:63.2px" width="20" height="20"><path d="M4.9 9L15.1 9L10 14Z" fill="#fff"/></svg>
<div style="position:absolute;left:1176.30px;top:61.00px;width:1.20px;height:27.00px;background:#4a4a4a"></div>
<div style="position:absolute;left:1184.90px;top:60.30px;width:25.40px;height:25.40px;border-radius:50%;background:#0000f0;border:1.2px solid #fff;box-sizing:border-box"></div>
<div class="t" style="left:1190.00px;top:68.45px;font-size:9.16px;color:#fff;font-weight:bold;transform:scaleX(0.9949);transform-origin:0 0;">232</div>
<div style="position:absolute;left:1218.80px;top:58.20px;width:130.00px;height:30.00px;background:linear-gradient(#575757,#5e5e5e 40%,#6c6c6c);border-radius:0 5px 0 0"></div>
<div style="position:absolute;left:1218.80px;top:58.20px;width:5.50px;height:30.00px;background:linear-gradient(#f0f000,#d8d800)"></div>
<div class="t" style="left:1227.50px;top:60.16px;font-size:11.63px;color:#f0f0f0;transform:scaleX(0.9092);transform-origin:0 0;">Source</div>
<div style="position:absolute;left:1322.80px;top:63.10px;width:19.00px;height:20.00px;border-radius:50%;background:linear-gradient(#464646,#585858 50%,#747474)"></div><svg style="position:absolute;left:1322.3px;top:63.1px" width="20" height="20"><path d="M4.9 9L15.1 9L10 14Z" fill="#fff"/></svg>
<div style="position:absolute;left:1354.80px;top:58.20px;width:143.00px;height:30.00px;background:linear-gradient(#575757,#5e5e5e 40%,#6c6c6c);border-radius:0 5px 0 0"></div>
<div style="position:absolute;left:1354.80px;top:58.20px;width:5.50px;height:30.00px;background:linear-gradient(#f0f000,#d8d800)"></div>
<div class="t" style="left:1363.80px;top:60.16px;font-size:11.63px;color:#f0f0f0;transform:scaleX(0.9303);transform-origin:0 0;">Direct Display Control</div>
<div style="position:absolute;left:1472.40px;top:63.10px;width:19.00px;height:20.00px;border-radius:50%;background:linear-gradient(#464646,#585858 50%,#747474)"></div><svg style="position:absolute;left:1471.9px;top:63.1px" width="20" height="20"><path d="M4.9 9L15.1 9L10 14Z" fill="#fff"/></svg>
<div style="position:absolute;left:1501.00px;top:58.40px;width:33.80px;height:27.20px;background:linear-gradient(#8a8a8a,#6a6a6a 50%,#5a5a5a);border:1px solid #9a9a9a;border-radius:4px;box-sizing:border-box"></div>
<div style="position:absolute;left:1508.00px;top:62.00px;width:20.00px;height:20.00px;border-radius:50%;background:radial-gradient(circle at 50% 35%,#5a5a5a,#686868 70%,#777)"></div>
<div style="position:absolute;left:1537.20px;top:58.40px;width:33.80px;height:27.20px;background:linear-gradient(#8a8a8a,#6a6a6a 50%,#5a5a5a);border:1px solid #9a9a9a;border-radius:4px;box-sizing:border-box"></div>
<div style="position:absolute;left:1544.20px;top:62.00px;width:20.00px;height:20.00px;border-radius:50%;background:radial-gradient(circle at 50% 35%,#5a5a5a,#686868 70%,#777)"></div>
<div style="position:absolute;left:1573.40px;top:58.40px;width:33.80px;height:27.20px;background:linear-gradient(#8a8a8a,#6a6a6a 50%,#5a5a5a);border:1px solid #9a9a9a;border-radius:4px;box-sizing:border-box"></div>
<div style="position:absolute;left:1580.40px;top:62.00px;width:20.00px;height:20.00px;border-radius:50%;background:radial-gradient(circle at 50% 35%,#5a5a5a,#686868 70%,#777)"></div>
<svg style="position:absolute;left:1508px;top:62px" width="20" height="20" viewBox="0 0 20 20"><g fill="#a8a8a8"><circle cx="10" cy="10" r="5.2"/><rect x="8.6" y="3" width="2.8" height="14" transform="rotate(0 10 10)"/><rect x="8.6" y="3" width="2.8" height="14" transform="rotate(45 10 10)"/><rect x="8.6" y="3" width="2.8" height="14" transform="rotate(90 10 10)"/><rect x="8.6" y="3" width="2.8" height="14" transform="rotate(135 10 10)"/></g><circle cx="10" cy="10" r="2.6" fill="#5e5e5e"/></svg>
<div class="t" style="left:1548.91px;top:64.11px;font-size:17.00px;color:#f0f0f0;font-weight:bold;">?</div>
<svg style="position:absolute;left:1580px;top:62px" width="20" height="20"><path d="M13 5.5L13 14.5L7.5 10Z" fill="#f0f0f0"/></svg>
<div style="position:absolute;left:1017.00px;top:101.00px;width:580.00px;height:503.00px;border:6px solid #c4c000;border-right-width:4px;box-sizing:border-box;background:#333"></div>
<div class="t" style="left:1276.60px;top:112.42px;font-size:12.50px;color:#d8d8d8;transform:scaleX(0.9443);transform-origin:0 0;">CIE 1931 xy</div>
<svg style="position:absolute;left:1030px;top:115px" width="560" height="470" viewBox="1030 115 560 470"><defs><linearGradient id="fl1" gradientUnits="userSpaceOnUse" x1="0" y1="130" x2="0" y2="570"><stop offset="0" stop-color="#006a00"/><stop offset="0.5" stop-color="#009a30"/><stop offset="0.6" stop-color="#008a8a"/><stop offset="0.78" stop-color="#0040a0"/><stop offset="1" stop-color="#2000a0"/></linearGradient><linearGradient id="fl2" gradientUnits="userSpaceOnUse" x1="1250" y1="0" x2="1520" y2="0"><stop offset="0" stop-color="#504000" stop-opacity="0"/><stop offset="0.35" stop-color="#806000" stop-opacity="0.85"/><stop offset="1" stop-color="#700000"/></linearGradient><linearGradient id="flG" gradientUnits="userSpaceOnUse" x1="1241.1" y1="255.1" x2="1302.5" y2="470.0"><stop offset="0" stop-color="#00ff00"/><stop offset="0.55" stop-color="#00a000"/><stop offset="1" stop-color="#000"/></linearGradient><linearGradient id="flR" gradientUnits="userSpaceOnUse" x1="1460.7" y1="398.3" x2="1192.7" y2="398.3"><stop offset="0" stop-color="#ff0000"/><stop offset="0.55" stop-color="#a00000"/><stop offset="1" stop-color="#000"/></linearGradient><linearGradient id="flB" gradientUnits="userSpaceOnUse" x1="1144.2" y1="541.6" x2="1350.9" y2="326.7"><stop offset="0" stop-color="#0000ff"/><stop offset="0.55" stop-color="#0000a0"/><stop offset="1" stop-color="#000"/></linearGradient><radialGradient id="flW" gradientUnits="userSpaceOnUse" cx="1249.3" cy="398.9" r="70"><stop offset="0" stop-color="#fff"/><stop offset="1" stop-color="#fff" stop-opacity="0"/></radialGradient></defs><rect x="1048" y="128" width="542" height="445" fill="#232323"/><path d="M1159.8 570.7 L1159.8 570.7 L1159.7 570.7 L1159.7 570.7 L1159.7 570.8 L1159.6 570.8 L1159.6 570.8 L1159.5 570.8 L1159.5 570.8 L1159.4 570.8 L1159.4 570.8 L1159.3 570.8 L1159.3 570.9 L1159.2 570.9 L1159.1 570.9 L1159.1 570.9 L1159.0 570.9 L1158.9 570.9 L1158.8 570.9 L1158.7 570.9 L1158.6 570.9 L1158.5 570.9 L1158.3 570.8 L1158.2 570.8 L1158.0 570.7 L1157.8 570.6 L1157.6 570.5 L1157.3 570.3 L1157.0 570.2 L1156.7 570.0 L1156.4 569.7 L1156.0 569.5 L1155.6 569.2 L1155.1 568.8 L1154.6 568.5 L1154.1 568.1 L1153.5 567.6 L1152.9 567.1 L1152.2 566.6 L1151.4 566.1 L1150.5 565.5 L1149.5 564.8 L1148.5 564.0 L1147.3 563.2 L1146.1 562.3 L1144.8 561.4 L1143.4 560.3 L1141.9 559.0 L1140.3 557.6 L1138.6 556.1 L1136.8 554.4 L1134.8 552.2 L1132.6 549.6 L1130.1 546.5 L1127.5 542.7 L1124.6 538.4 L1121.5 533.4 L1118.1 527.4 L1114.4 520.3 L1110.5 512.3 L1106.3 503.0 L1101.6 492.4 L1096.7 480.4 L1091.7 466.9 L1086.7 451.7 L1081.6 435.0 L1076.6 416.9 L1071.7 397.2 L1066.8 376.1 L1062.5 354.5 L1058.6 332.4 L1055.2 309.8 L1052.6 287.8 L1050.8 266.4 L1049.8 245.6 L1049.8 226.0 L1050.9 207.7 L1053.1 190.6 L1056.3 175.4 L1060.7 162.4 L1066.2 151.3 L1072.4 142.6 L1079.4 136.6 L1087.2 133.0 L1095.3 131.1 L1103.7 131.0 L1112.3 132.7 L1121.1 135.1 L1129.8 138.1 L1138.6 141.9 L1147.2 145.9 L1155.6 150.0 L1163.8 154.3 L1171.9 158.8 L1179.9 163.4 L1187.8 168.3 L1195.6 173.2 L1203.5 178.4 L1211.2 183.7 L1219.0 189.2 L1226.7 194.7 L1234.4 200.4 L1242.1 206.1 L1249.8 212.0 L1257.5 217.9 L1265.2 223.9 L1272.9 229.9 L1280.6 236.0 L1288.3 242.1 L1296.0 248.3 L1303.7 254.4 L1311.3 260.6 L1319.0 266.8 L1326.6 273.0 L1334.2 279.1 L1341.7 285.3 L1349.2 291.4 L1356.6 297.4 L1363.9 303.4 L1371.2 309.4 L1378.4 315.3 L1385.4 321.0 L1392.4 326.8 L1399.2 332.3 L1405.9 337.8 L1412.5 343.2 L1418.9 348.4 L1425.1 353.4 L1431.0 358.4 L1436.8 363.1 L1442.2 367.5 L1447.4 371.7 L1452.3 375.8 L1457.1 379.7 L1461.7 383.5 L1466.0 387.0 L1470.1 390.3 L1473.9 393.3 L1477.4 396.2 L1480.7 398.9 L1483.8 401.4 L1486.6 403.8 L1489.3 406.0 L1491.7 408.0 L1494.0 409.8 L1496.1 411.6 L1498.1 413.1 L1499.9 414.6 L1501.6 416.0 L1503.1 417.3 L1504.6 418.5 L1506.0 419.6 L1507.3 420.7 L1508.5 421.7 L1509.7 422.7 L1510.8 423.6 L1511.8 424.4 L1512.7 425.1 L1513.6 425.8 L1514.4 426.5 L1515.1 427.0 L1515.7 427.6 L1516.3 428.0 L1516.8 428.5 L1517.3 428.9 L1517.8 429.3 L1518.2 429.6 L1518.6 429.9 L1518.9 430.2 L1519.2 430.4 L1519.4 430.6 L1519.6 430.7 L1519.8 430.9 L1520.0 431.1 L1520.2 431.2 L1520.3 431.4 L1520.5 431.5 L1520.6 431.6 L1520.8 431.7 L1520.9 431.8 L1521.1 432.0 L1521.2 432.1 L1521.3 432.2 L1521.5 432.3 L1521.6 432.4 L1521.7 432.4 L1521.7 432.5 L1521.8 432.5 L1521.8 432.6 L1521.9 432.6 L1521.9 432.6 L1521.9 432.6 L1521.9 432.7Z" fill="url(#fl1)"/><clipPath id="flc"><path d="M1159.8 570.7 L1159.8 570.7 L1159.7 570.7 L1159.7 570.7 L1159.7 570.8 L1159.6 570.8 L1159.6 570.8 L1159.5 570.8 L1159.5 570.8 L1159.4 570.8 L1159.4 570.8 L1159.3 570.8 L1159.3 570.9 L1159.2 570.9 L1159.1 570.9 L1159.1 570.9 L1159.0 570.9 L1158.9 570.9 L1158.8 570.9 L1158.7 570.9 L1158.6 570.9 L1158.5 570.9 L1158.3 570.8 L1158.2 570.8 L1158.0 570.7 L1157.8 570.6 L1157.6 570.5 L1157.3 570.3 L1157.0 570.2 L1156.7 570.0 L1156.4 569.7 L1156.0 569.5 L1155.6 569.2 L1155.1 568.8 L1154.6 568.5 L1154.1 568.1 L1153.5 567.6 L1152.9 567.1 L1152.2 566.6 L1151.4 566.1 L1150.5 565.5 L1149.5 564.8 L1148.5 564.0 L1147.3 563.2 L1146.1 562.3 L1144.8 561.4 L1143.4 560.3 L1141.9 559.0 L1140.3 557.6 L1138.6 556.1 L1136.8 554.4 L1134.8 552.2 L1132.6 549.6 L1130.1 546.5 L1127.5 542.7 L1124.6 538.4 L1121.5 533.4 L1118.1 527.4 L1114.4 520.3 L1110.5 512.3 L1106.3 503.0 L1101.6 492.4 L1096.7 480.4 L1091.7 466.9 L1086.7 451.7 L1081.6 435.0 L1076.6 416.9 L1071.7 397.2 L1066.8 376.1 L1062.5 354.5 L1058.6 332.4 L1055.2 309.8 L1052.6 287.8 L1050.8 266.4 L1049.8 245.6 L1049.8 226.0 L1050.9 207.7 L1053.1 190.6 L1056.3 175.4 L1060.7 162.4 L1066.2 151.3 L1072.4 142.6 L1079.4 136.6 L1087.2 133.0 L1095.3 131.1 L1103.7 131.0 L1112.3 132.7 L1121.1 135.1 L1129.8 138.1 L1138.6 141.9 L1147.2 145.9 L1155.6 150.0 L1163.8 154.3 L1171.9 158.8 L1179.9 163.4 L1187.8 168.3 L1195.6 173.2 L1203.5 178.4 L1211.2 183.7 L1219.0 189.2 L1226.7 194.7 L1234.4 200.4 L1242.1 206.1 L1249.8 212.0 L1257.5 217.9 L1265.2 223.9 L1272.9 229.9 L1280.6 236.0 L1288.3 242.1 L1296.0 248.3 L1303.7 254.4 L1311.3 260.6 L1319.0 266.8 L1326.6 273.0 L1334.2 279.1 L1341.7 285.3 L1349.2 291.4 L1356.6 297.4 L1363.9 303.4 L1371.2 309.4 L1378.4 315.3 L1385.4 321.0 L1392.4 326.8 L1399.2 332.3 L1405.9 337.8 L1412.5 343.2 L1418.9 348.4 L1425.1 353.4 L1431.0 358.4 L1436.8 363.1 L1442.2 367.5 L1447.4 371.7 L1452.3 375.8 L1457.1 379.7 L1461.7 383.5 L1466.0 387.0 L1470.1 390.3 L1473.9 393.3 L1477.4 396.2 L1480.7 398.9 L1483.8 401.4 L1486.6 403.8 L1489.3 406.0 L1491.7 408.0 L1494.0 409.8 L1496.1 411.6 L1498.1 413.1 L1499.9 414.6 L1501.6 416.0 L1503.1 417.3 L1504.6 418.5 L1506.0 419.6 L1507.3 420.7 L1508.5 421.7 L1509.7 422.7 L1510.8 423.6 L1511.8 424.4 L1512.7 425.1 L1513.6 425.8 L1514.4 426.5 L1515.1 427.0 L1515.7 427.6 L1516.3 428.0 L1516.8 428.5 L1517.3 428.9 L1517.8 429.3 L1518.2 429.6 L1518.6 429.9 L1518.9 430.2 L1519.2 430.4 L1519.4 430.6 L1519.6 430.7 L1519.8 430.9 L1520.0 431.1 L1520.2 431.2 L1520.3 431.4 L1520.5 431.5 L1520.6 431.6 L1520.8 431.7 L1520.9 431.8 L1521.1 432.0 L1521.2 432.1 L1521.3 432.2 L1521.5 432.3 L1521.6 432.4 L1521.7 432.4 L1521.7 432.5 L1521.8 432.5 L1521.8 432.6 L1521.9 432.6 L1521.9 432.6 L1521.9 432.6 L1521.9 432.7Z"/></clipPath><g clip-path="url(#flc)"><path d="M1200 128 L1590 128 L1590 573 L1100 573 L1200 300Z" fill="url(#fl2)"/></g><g style="isolation:isolate"><path d="M1241.1 255.1 L1460.7 398.3 L1144.2 541.6 Z" fill="#000"/><path d="M1241.1 255.1 L1460.7 398.3 L1144.2 541.6 Z" fill="url(#flG)" style="mix-blend-mode:screen"/><path d="M1241.1 255.1 L1460.7 398.3 L1144.2 541.6 Z" fill="url(#flR)" style="mix-blend-mode:screen"/><path d="M1241.1 255.1 L1460.7 398.3 L1144.2 541.6 Z" fill="url(#flB)" style="mix-blend-mode:screen"/><path d="M1241.1 255.1 L1460.7 398.3 L1144.2 541.6 Z" fill="url(#flW)"/></g><rect x="1234.3" y="247.2" width="13.2" height="13.2" fill="none" stroke="#fff" stroke-width="1.5"/><rect x="1235.3" y="278.3" width="13.2" height="13.2" fill="none" stroke="#fff" stroke-width="1.5"/><rect x="1237.3" y="305.7" width="13.2" height="13.2" fill="none" stroke="#fff" stroke-width="1.5"/><rect x="1238.6" y="334.8" width="13.2" height="13.2" fill="none" stroke="#fff" stroke-width="1.5"/><rect x="1241.2" y="362.1" width="13.2" height="13.2" fill="none" stroke="#fff" stroke-width="1.5"/><rect x="1311.9" y="297.3" width="13.2" height="13.2" fill="none" stroke="#fff" stroke-width="1.5"/><rect x="1296.7" y="317.8" width="13.2" height="13.2" fill="none" stroke="#fff" stroke-width="1.5"/><rect x="1284.2" y="334.8" width="13.2" height="13.2" fill="none" stroke="#fff" stroke-width="1.5"/><rect x="1270.9" y="352.7" width="13.2" height="13.2" fill="none" stroke="#fff" stroke-width="1.5"/><rect x="1255.6" y="371.5" width="13.2" height="13.2" fill="none" stroke="#fff" stroke-width="1.5"/><rect x="1184.9" y="391.3" width="13.2" height="13.2" fill="none" stroke="#fff" stroke-width="1.5"/><rect x="1196.5" y="391.3" width="13.2" height="13.2" fill="none" stroke="#fff" stroke-width="1.5"/><rect x="1207.6" y="391.3" width="13.2" height="13.2" fill="none" stroke="#fff" stroke-width="1.5"/><rect x="1219.3" y="391.3" width="13.2" height="13.2" fill="none" stroke="#fff" stroke-width="1.5"/><rect x="1230.1" y="391.3" width="13.2" height="13.2" fill="none" stroke="#fff" stroke-width="1.5"/><rect x="1283.4" y="391.3" width="13.2" height="13.2" fill="none" stroke="#fff" stroke-width="1.5"/><rect x="1327.9" y="391.3" width="13.2" height="13.2" fill="none" stroke="#fff" stroke-width="1.5"/><rect x="1365.3" y="391.3" width="13.2" height="13.2" fill="none" stroke="#fff" stroke-width="1.5"/><rect x="1407.2" y="391.3" width="13.2" height="13.2" fill="none" stroke="#fff" stroke-width="1.5"/><rect x="1454.3" y="391.3" width="13.2" height="13.2" fill="none" stroke="#fff" stroke-width="1.5"/><rect x="1243.1" y="410.1" width="13.2" height="13.2" fill="none" stroke="#fff" stroke-width="1.5"/><rect x="1244.1" y="429.5" width="13.2" height="13.2" fill="none" stroke="#fff" stroke-width="1.5"/><rect x="1245.5" y="446.3" width="13.2" height="13.2" fill="none" stroke="#fff" stroke-width="1.5"/><rect x="1246.8" y="464.3" width="13.2" height="13.2" fill="none" stroke="#fff" stroke-width="1.5"/><rect x="1247.8" y="483.2" width="13.2" height="13.2" fill="none" stroke="#fff" stroke-width="1.5"/><rect x="1221.5" y="419.9" width="13.2" height="13.2" fill="none" stroke="#fff" stroke-width="1.5"/><rect x="1199.9" y="448.2" width="13.2" height="13.2" fill="none" stroke="#fff" stroke-width="1.5"/><rect x="1180.3" y="474.8" width="13.2" height="13.2" fill="none" stroke="#fff" stroke-width="1.5"/><rect x="1160.3" y="502.4" width="13.2" height="13.2" fill="none" stroke="#fff" stroke-width="1.5"/><rect x="1137.3" y="533.8" width="13.2" height="13.2" fill="none" stroke="#fff" stroke-width="1.5"/><circle cx="1252.5" cy="248.0" r="4.7" fill="#12a012" stroke="#000" stroke-width="1.1"/><circle cx="1246.4" cy="274.4" r="4.7" fill="#58a858" stroke="#000" stroke-width="1.1"/><circle cx="1239.4" cy="312.5" r="4.7" fill="#6aae6a" stroke="#000" stroke-width="1.1"/><circle cx="1232.5" cy="357.0" r="4.7" fill="#84b484" stroke="#000" stroke-width="1.1"/><circle cx="1228.5" cy="397.9" r="4.7" fill="#98b898" stroke="#000" stroke-width="1.1"/><circle cx="1303.5" cy="285.1" r="4.7" fill="#ccbc00" stroke="#000" stroke-width="1.1"/><circle cx="1295.4" cy="305.2" r="4.7" fill="#bcb45a" stroke="#000" stroke-width="1.1"/><circle cx="1278.4" cy="336.5" r="4.7" fill="#bab078" stroke="#000" stroke-width="1.1"/><circle cx="1255.4" cy="375.0" r="4.7" fill="#bab490" stroke="#000" stroke-width="1.1"/><circle cx="1238.4" cy="404.9" r="4.7" fill="#c0c0a0" stroke="#000" stroke-width="1.1"/><circle cx="1258.1" cy="421.8" r="4.7" fill="#c08888" stroke="#000" stroke-width="1.1"/><circle cx="1311.4" cy="413.4" r="4.7" fill="#c07070" stroke="#000" stroke-width="1.1"/><circle cx="1360.2" cy="404.9" r="4.7" fill="#c05252" stroke="#000" stroke-width="1.1"/><circle cx="1408.4" cy="398.0" r="4.7" fill="#c84040" stroke="#000" stroke-width="1.1"/><circle cx="1447.4" cy="391.9" r="4.7" fill="#d81010" stroke="#000" stroke-width="1.1"/><circle cx="1216.5" cy="428.7" r="4.7" fill="#a8c0c0" stroke="#000" stroke-width="1.1"/><circle cx="1208.5" cy="431.5" r="4.7" fill="#90c0c0" stroke="#000" stroke-width="1.1"/><circle cx="1199.6" cy="433.1" r="4.7" fill="#80c0c0" stroke="#000" stroke-width="1.1"/><circle cx="1191.6" cy="435.5" r="4.7" fill="#50b8b8" stroke="#000" stroke-width="1.1"/><circle cx="1186.5" cy="438.3" r="4.7" fill="#20c4c4" stroke="#000" stroke-width="1.1"/><circle cx="1221.5" cy="446.4" r="4.7" fill="#c4a4c0" stroke="#000" stroke-width="1.1"/><circle cx="1219.4" cy="465.6" r="4.7" fill="#c094bc" stroke="#000" stroke-width="1.1"/><circle cx="1216.3" cy="484.0" r="4.7" fill="#bc74b8" stroke="#000" stroke-width="1.1"/><circle cx="1213.4" cy="500.8" r="4.7" fill="#c058c0" stroke="#000" stroke-width="1.1"/><circle cx="1211.4" cy="516.5" r="4.7" fill="#c810b8" stroke="#000" stroke-width="1.1"/><circle cx="1205.6" cy="456.8" r="4.7" fill="#9494b4" stroke="#000" stroke-width="1.1"/><circle cx="1187.6" cy="487.4" r="4.7" fill="#8484c0" stroke="#000" stroke-width="1.1"/><circle cx="1171.4" cy="513.8" r="4.7" fill="#6a6ac4" stroke="#000" stroke-width="1.1"/><circle cx="1158.6" cy="534.5" r="4.7" fill="#4c4cbc" stroke="#000" stroke-width="1.1"/><circle cx="1148.3" cy="550.3" r="4.7" fill="#0000d8" stroke="#000" stroke-width="1.1"/><circle cx="1200.7" cy="462.1" r="4.7" fill="#000000" stroke="#000" stroke-width="1.1"/><circle cx="1222.5" cy="429.9" r="4.7" fill="#ffffff" stroke="#000" stroke-width="1.1"/><rect x="1242.5" y="391.4" width="13.2" height="13.2" fill="none" stroke="#000" stroke-width="2"/><rect x="1437" y="128" width="153" height="161" fill="#a0c000" stroke="#9a9a9a" stroke-width="1.6"/><path d="M1437 128 L1590 128 L1590 272 L1437 145Z" fill="#6a7a00"/></svg>
<canvas id="cie" width="560" height="470" style="position:absolute;left:1030px;top:115px"></canvas>
<svg style="position:absolute;left:1030px;top:115px" width="560" height="480" viewBox="1030 115 560 480">
<rect x="1047.3" y="127.5" width="543.3" height="445.9" fill="none" stroke="#a8a8a8" stroke-width="1.6"/>
<line x1="1042.3" x2="1047.3" y1="573.4" y2="573.4" stroke="#c8c8c8" stroke-width="1.6"/>
<line x1="1047.3" x2="1047.3" y1="573.4" y2="578.4" stroke="#c8c8c8" stroke-width="1.6"/>
<line x1="1042.3" x2="1047.3" y1="520.4" y2="520.4" stroke="#c8c8c8" stroke-width="1.6"/>
<line x1="1111.9" x2="1111.9" y1="573.4" y2="578.4" stroke="#c8c8c8" stroke-width="1.6"/>
<line x1="1042.3" x2="1047.3" y1="467.3" y2="467.3" stroke="#c8c8c8" stroke-width="1.6"/>
<line x1="1176.5" x2="1176.5" y1="573.4" y2="578.4" stroke="#c8c8c8" stroke-width="1.6"/>
<line x1="1042.3" x2="1047.3" y1="414.2" y2="414.2" stroke="#c8c8c8" stroke-width="1.6"/>
<line x1="1241.1" x2="1241.1" y1="573.4" y2="578.4" stroke="#c8c8c8" stroke-width="1.6"/>
<line x1="1042.3" x2="1047.3" y1="361.2" y2="361.2" stroke="#c8c8c8" stroke-width="1.6"/>
<line x1="1305.7" x2="1305.7" y1="573.4" y2="578.4" stroke="#c8c8c8" stroke-width="1.6"/>
<line x1="1042.3" x2="1047.3" y1="308.1" y2="308.1" stroke="#c8c8c8" stroke-width="1.6"/>
<line x1="1370.3" x2="1370.3" y1="573.4" y2="578.4" stroke="#c8c8c8" stroke-width="1.6"/>
<line x1="1042.3" x2="1047.3" y1="255.1" y2="255.1" stroke="#c8c8c8" stroke-width="1.6"/>
<line x1="1434.9" x2="1434.9" y1="573.4" y2="578.4" stroke="#c8c8c8" stroke-width="1.6"/>
<line x1="1042.3" x2="1047.3" y1="202.0" y2="202.0" stroke="#c8c8c8" stroke-width="1.6"/>
<line x1="1499.5" x2="1499.5" y1="573.4" y2="578.4" stroke="#c8c8c8" stroke-width="1.6"/>
<line x1="1042.3" x2="1047.3" y1="149.0" y2="149.0" stroke="#c8c8c8" stroke-width="1.6"/>
<line x1="1564.1" x2="1564.1" y1="573.4" y2="578.4" stroke="#c8c8c8" stroke-width="1.6"/>
</svg>
<div class="t" style="left:1035.55px;top:569.02px;font-size:12.50px;color:#d8d8d8;">0</div>
<div class="t" style="left:1043.82px;top:582.62px;font-size:12.50px;color:#d8d8d8;">0</div>
<div class="t" style="left:1025.12px;top:515.97px;font-size:12.50px;color:#d8d8d8;">0.1</div>
<div class="t" style="left:1103.21px;top:582.62px;font-size:12.50px;color:#d8d8d8;">0.1</div>
<div class="t" style="left:1025.12px;top:462.92px;font-size:12.50px;color:#d8d8d8;">0.2</div>
<div class="t" style="left:1167.81px;top:582.62px;font-size:12.50px;color:#d8d8d8;">0.2</div>
<div class="t" style="left:1025.12px;top:409.87px;font-size:12.50px;color:#d8d8d8;">0.3</div>
<div class="t" style="left:1232.41px;top:582.62px;font-size:12.50px;color:#d8d8d8;">0.3</div>
<div class="t" style="left:1025.12px;top:356.82px;font-size:12.50px;color:#d8d8d8;">0.4</div>
<div class="t" style="left:1297.01px;top:582.62px;font-size:12.50px;color:#d8d8d8;">0.4</div>
<div class="t" style="left:1025.12px;top:303.77px;font-size:12.50px;color:#d8d8d8;">0.5</div>
<div class="t" style="left:1361.61px;top:582.62px;font-size:12.50px;color:#d8d8d8;">0.5</div>
<div class="t" style="left:1025.12px;top:250.72px;font-size:12.50px;color:#d8d8d8;">0.6</div>
<div class="t" style="left:1426.21px;top:582.62px;font-size:12.50px;color:#d8d8d8;">0.6</div>
<div class="t" style="left:1025.12px;top:197.67px;font-size:12.50px;color:#d8d8d8;">0.7</div>
<div class="t" style="left:1490.81px;top:582.62px;font-size:12.50px;color:#d8d8d8;">0.7</div>
<div class="t" style="left:1025.12px;top:144.62px;font-size:12.50px;color:#d8d8d8;">0.8</div>
<div class="t" style="left:1555.41px;top:582.62px;font-size:12.50px;color:#d8d8d8;">0.8</div>
<div style="position:absolute;left:1019.20px;top:612.20px;width:496.70px;height:26.50px;background:linear-gradient(#2e2e2e 0%,#2c2c2c 48%,#161616 50%,#121212)"></div>
<div style="position:absolute;left:1019.20px;top:612.20px;width:15.50px;height:26.50px;background:#000"></div>
<div class="t" style="left:1174.10px;top:618.38px;font-size:15.26px;color:#f0f0f0;transform:scaleX(1.0967);transform-origin:0 0;">20%</div>
<div class="t" style="left:1243.40px;top:618.38px;font-size:15.26px;color:#f0f0f0;transform:scaleX(1.0967);transform-origin:0 0;">40%</div>
<div class="t" style="left:1312.10px;top:618.38px;font-size:15.26px;color:#f0f0f0;transform:scaleX(1.0967);transform-origin:0 0;">60%</div>
<div class="t" style="left:1381.40px;top:618.38px;font-size:15.26px;color:#f0f0f0;transform:scaleX(1.0967);transform-origin:0 0;">80%</div>
<div class="t" style="left:1452.40px;top:618.38px;font-size:15.26px;color:#f0f0f0;transform:scaleX(1.1144);transform-origin:0 0;">100%</div>
<div style="position:absolute;left:1019.20px;top:638.70px;width:496.70px;height:25.10px;background:#484848"></div>
<div style="position:absolute;left:1019.20px;top:638.70px;width:15.50px;height:25.10px;background:#262626"></div>
<div class="t" style="left:1040.20px;top:643.57px;font-size:15.99px;color:#f2f2f2;transform:scaleX(1.0764);transform-origin:0 0;">x: CIE31</div>
<div class="t" style="left:1174.10px;top:643.57px;font-size:15.99px;color:#f2f2f2;transform:scaleX(1.1729);transform-origin:0 0;">0.30</div>
<div class="t" style="left:1243.40px;top:643.57px;font-size:15.99px;color:#f2f2f2;transform:scaleX(1.1729);transform-origin:0 0;">0.32</div>
<div class="t" style="left:1312.10px;top:643.57px;font-size:15.99px;color:#f2f2f2;transform:scaleX(1.1729);transform-origin:0 0;">0.36</div>
<div class="t" style="left:1381.40px;top:643.57px;font-size:15.99px;color:#f2f2f2;transform:scaleX(1.1729);transform-origin:0 0;">0.39</div>
<div class="t" style="left:1452.40px;top:643.57px;font-size:15.99px;color:#f2f2f2;transform:scaleX(1.1729);transform-origin:0 0;">0.40</div>
<div style="position:absolute;left:1019.20px;top:663.72px;width:496.70px;height:25.10px;background:#7c7c7c"></div>
<div style="position:absolute;left:1019.20px;top:663.72px;width:15.50px;height:25.10px;background:#262626"></div>
<div class="t" style="left:1040.20px;top:668.59px;font-size:15.99px;color:#f2f2f2;transform:scaleX(1.0764);transform-origin:0 0;">y: CIE31</div>
<div class="t" style="left:1174.10px;top:668.59px;font-size:15.99px;color:#f2f2f2;transform:scaleX(1.1729);transform-origin:0 0;">0.32</div>
<div class="t" style="left:1243.40px;top:668.59px;font-size:15.99px;color:#f2f2f2;transform:scaleX(1.1729);transform-origin:0 0;">0.37</div>
<div class="t" style="left:1312.10px;top:668.59px;font-size:15.99px;color:#f2f2f2;transform:scaleX(1.1729);transform-origin:0 0;">0.44</div>
<div class="t" style="left:1381.40px;top:668.59px;font-size:15.99px;color:#f2f2f2;transform:scaleX(1.1729);transform-origin:0 0;">0.50</div>
<div class="t" style="left:1452.40px;top:668.59px;font-size:15.99px;color:#f2f2f2;transform:scaleX(1.1729);transform-origin:0 0;">0.54</div>
<div style="position:absolute;left:1019.20px;top:688.74px;width:496.70px;height:25.10px;background:#484848"></div>
<div style="position:absolute;left:1019.20px;top:688.74px;width:15.50px;height:25.10px;background:#262626"></div>
<div class="t" style="left:1040.20px;top:693.61px;font-size:15.99px;color:#f2f2f2;transform:scaleX(1.0783);transform-origin:0 0;">Y</div>
<div class="t" style="left:1174.10px;top:693.61px;font-size:15.99px;color:#f2f2f2;transform:scaleX(1.1758);transform-origin:0 0;">251.91</div>
<div class="t" style="left:1243.40px;top:693.61px;font-size:15.99px;color:#f2f2f2;transform:scaleX(1.1758);transform-origin:0 0;">248.15</div>
<div class="t" style="left:1312.10px;top:693.61px;font-size:15.99px;color:#f2f2f2;transform:scaleX(1.1758);transform-origin:0 0;">246.76</div>
<div class="t" style="left:1381.40px;top:693.61px;font-size:15.99px;color:#f2f2f2;transform:scaleX(1.1758);transform-origin:0 0;">246.56</div>
<div class="t" style="left:1452.40px;top:693.61px;font-size:15.99px;color:#f2f2f2;transform:scaleX(1.1758);transform-origin:0 0;">245.18</div>
<div style="position:absolute;left:1019.20px;top:713.76px;width:496.70px;height:25.10px;background:#7c7c7c"></div>
<div style="position:absolute;left:1019.20px;top:713.76px;width:15.50px;height:25.10px;background:#262626"></div>
<div class="t" style="left:1040.20px;top:718.63px;font-size:15.99px;color:#f2f2f2;transform:scaleX(1.1309);transform-origin:0 0;">Target x:CIE31</div>
<div class="t" style="left:1174.10px;top:718.63px;font-size:15.99px;color:#f2f2f2;transform:scaleX(1.1729);transform-origin:0 0;">0.33</div>
<div class="t" style="left:1243.40px;top:718.63px;font-size:15.99px;color:#f2f2f2;transform:scaleX(1.1729);transform-origin:0 0;">0.36</div>
<div class="t" style="left:1312.10px;top:718.63px;font-size:15.99px;color:#f2f2f2;transform:scaleX(1.1729);transform-origin:0 0;">0.38</div>
<div class="t" style="left:1381.40px;top:718.63px;font-size:15.99px;color:#f2f2f2;transform:scaleX(1.1729);transform-origin:0 0;">0.40</div>
<div class="t" style="left:1452.40px;top:718.63px;font-size:15.99px;color:#f2f2f2;transform:scaleX(1.1729);transform-origin:0 0;">0.42</div>
<div style="position:absolute;left:1019.20px;top:738.78px;width:496.70px;height:25.10px;background:#484848"></div>
<div style="position:absolute;left:1019.20px;top:738.78px;width:15.50px;height:25.10px;background:#262626"></div>
<div class="t" style="left:1040.20px;top:743.65px;font-size:15.99px;color:#f2f2f2;transform:scaleX(1.1309);transform-origin:0 0;">Target y:CIE31</div>
<div class="t" style="left:1174.10px;top:743.65px;font-size:15.99px;color:#f2f2f2;transform:scaleX(1.1729);transform-origin:0 0;">0.36</div>
<div class="t" style="left:1243.40px;top:743.65px;font-size:15.99px;color:#f2f2f2;transform:scaleX(1.1729);transform-origin:0 0;">0.40</div>
<div class="t" style="left:1312.10px;top:743.65px;font-size:15.99px;color:#f2f2f2;transform:scaleX(1.1729);transform-origin:0 0;">0.44</div>
<div class="t" style="left:1381.40px;top:743.65px;font-size:15.99px;color:#f2f2f2;transform:scaleX(1.1729);transform-origin:0 0;">0.47</div>
<div class="t" style="left:1452.40px;top:743.65px;font-size:15.99px;color:#f2f2f2;transform:scaleX(1.1729);transform-origin:0 0;">0.51</div>
<div style="position:absolute;left:1019.20px;top:763.80px;width:496.70px;height:25.10px;background:#7c7c7c"></div>
<div style="position:absolute;left:1019.20px;top:763.80px;width:15.50px;height:25.10px;background:#262626"></div>
<div class="t" style="left:1040.20px;top:768.67px;font-size:15.99px;color:#f2f2f2;transform:scaleX(1.1898);transform-origin:0 0;">Target Y</div>
<div class="t" style="left:1174.10px;top:768.67px;font-size:15.99px;color:#f2f2f2;transform:scaleX(1.1758);transform-origin:0 0;">233.22</div>
<div class="t" style="left:1243.40px;top:768.67px;font-size:15.99px;color:#f2f2f2;transform:scaleX(1.1758);transform-origin:0 0;">229.14</div>
<div class="t" style="left:1312.10px;top:768.67px;font-size:15.99px;color:#f2f2f2;transform:scaleX(1.1758);transform-origin:0 0;">226.00</div>
<div class="t" style="left:1381.40px;top:768.67px;font-size:15.99px;color:#f2f2f2;transform:scaleX(1.1758);transform-origin:0 0;">223.53</div>
<div class="t" style="left:1452.40px;top:768.67px;font-size:15.99px;color:#f2f2f2;transform:scaleX(1.1758);transform-origin:0 0;">221.15</div>
<div style="position:absolute;left:200.70px;top:808.00px;width:45.00px;height:62.00px;background:linear-gradient(#a8a8a8,#7a7a7a 40%,#5a5a5a);border-radius:4px 4px 0 0"></div>
<div style="position:absolute;left:206.40px;top:834.20px;width:34.70px;height:29.70px;background:#ffff00;border-radius:3px"></div>
<div style="position:absolute;left:216.00px;top:809.00px;width:14.00px;height:14.00px;border-radius:50%;background:radial-gradient(circle,#666 40%,#888)"></div>
<svg style="position:absolute;left:200px;top:805px" width="46" height="65"><path d="M19 15L23 11L27 15Z" fill="#222"/><rect x="5.5" y="7.5" width="18" height="52" fill="none" stroke="#111" stroke-width="0.9" stroke-dasharray="2,1.6"/></svg>
<div style="position:absolute;left:252.00px;top:808.00px;width:149.50px;height:62.00px;background:linear-gradient(#a4a4a4,#8c8c8c 30%,#6a6a6a 75%,#5a5a5a);border-radius:5px 5px 0 0"></div>
<div style="position:absolute;left:257.70px;top:812.90px;width:139.00px;height:36.00px;background:#c0c0a4;border-radius:3px;box-shadow:inset 0 1px 2px rgba(0,0,0,0.35)"></div>
<div class="t" style="left:315.36px;top:853.66px;font-size:11.63px;color:#2a2a2a;">20%</div>
<div style="position:absolute;left:404.00px;top:808.00px;width:149.50px;height:62.00px;background:linear-gradient(#a4a4a4,#8c8c8c 30%,#6a6a6a 75%,#5a5a5a);border-radius:5px 5px 0 0"></div>
<div style="position:absolute;left:409.70px;top:812.90px;width:139.00px;height:36.00px;background:#c0c088;border-radius:3px;box-shadow:inset 0 1px 2px rgba(0,0,0,0.35)"></div>
<div class="t" style="left:467.36px;top:853.66px;font-size:11.63px;color:#2a2a2a;">40%</div>
<div style="position:absolute;left:555.60px;top:808.00px;width:149.50px;height:62.00px;background:linear-gradient(#a4a4a4,#8c8c8c 30%,#6a6a6a 75%,#5a5a5a);border-radius:5px 5px 0 0"></div>
<div style="position:absolute;left:561.30px;top:812.90px;width:139.00px;height:36.00px;background:#c0bf6e;border-radius:3px;box-shadow:inset 0 1px 2px rgba(0,0,0,0.35)"></div>
<div class="t" style="left:618.96px;top:853.66px;font-size:11.63px;color:#2a2a2a;">60%</div>
<div style="position:absolute;left:708.00px;top:808.00px;width:149.50px;height:62.00px;background:linear-gradient(#a4a4a4,#8c8c8c 30%,#6a6a6a 75%,#5a5a5a);border-radius:5px 5px 0 0"></div>
<div style="position:absolute;left:713.70px;top:812.90px;width:139.00px;height:36.00px;background:#c2c14e;border-radius:3px;box-shadow:inset 0 1px 2px rgba(0,0,0,0.35)"></div>
<div class="t" style="left:771.36px;top:853.66px;font-size:11.63px;color:#2a2a2a;">80%</div>
<div style="position:absolute;left:860.10px;top:808.00px;width:149.50px;height:62.00px;background:#2a2a2a;border-radius:5px 5px 0 0"></div>
<div style="position:absolute;left:865.80px;top:812.90px;width:139.00px;height:36.00px;background:#c4c000;border-radius:3px;box-shadow:inset 0 1px 2px rgba(0,0,0,0.35)"></div>
<div class="t" style="left:920.23px;top:853.66px;font-size:11.63px;color:#ffffff;font-weight:bold;">100%</div>
<div style="position:absolute;left:1010.00px;top:808.00px;width:267.00px;height:62.00px;background:linear-gradient(#4a4a4a,#262626);border-radius:5px 5px 0 0"></div>
<div style="position:absolute;left:1277.00px;top:808.20px;width:47.80px;height:61.80px;background:linear-gradient(#9a9a9a,#6a6a6a)"></div>
<div style="position:absolute;left:1277.00px;top:808.20px;width:47.80px;height:17.60px;background:linear-gradient(#b4b4b4,#8a8a8a);border-radius:5px 5px 0 0;border-bottom:1px solid #555;box-sizing:border-box"></div>
<div style="position:absolute;left:1292.50px;top:810.00px;width:17.00px;height:14.00px;border-radius:50%;background:radial-gradient(circle at 50% 40%,#7a7a7a,#9a9a9a)"></div>
<svg style="position:absolute;left:1292px;top:810px" width="18" height="14"><path d="M5.5 9L9 5.5L12.5 9Z" fill="#222"/></svg>
<div style="position:absolute;left:1285.50px;top:832.50px;width:31.00px;height:31.00px;border:2.5px solid #2a2a2a;border-radius:5px;background:linear-gradient(#c8c8c8,#8a8a8a);box-sizing:border-box"></div>
<div style="position:absolute;left:1293.00px;top:840.00px;width:16.00px;height:16.00px;background:#000"></div>
<div style="position:absolute;left:1326.30px;top:808.20px;width:45.10px;height:29.30px;background:linear-gradient(#b2b2b2,#969696 50%,#6c6c6c);border-right:1px solid #6a6a6a;box-sizing:border-box"></div>
<div style="position:absolute;left:1372.20px;top:808.20px;width:44.20px;height:29.30px;background:linear-gradient(#b2b2b2,#969696 50%,#6c6c6c);border-right:1px solid #6a6a6a;box-sizing:border-box"></div>
<div style="position:absolute;left:1417.20px;top:808.20px;width:44.30px;height:29.30px;background:linear-gradient(#b2b2b2,#969696 50%,#6c6c6c);border-right:1px solid #6a6a6a;box-sizing:border-box"></div>
<div style="position:absolute;left:1462.30px;top:808.20px;width:44.00px;height:29.30px;background:linear-gradient(#b2b2b2,#969696 50%,#6c6c6c);border-right:1px solid #6a6a6a;box-sizing:border-box"></div>
<div style="position:absolute;left:1507.10px;top:808.20px;width:43.60px;height:29.30px;background:linear-gradient(#b2b2b2,#969696 50%,#6c6c6c);border-right:1px solid #6a6a6a;box-sizing:border-box"></div>
<div style="position:absolute;left:1326.30px;top:808.20px;width:225.00px;height:29.30px;border-radius:5px 0 0 0"></div>
<div style="position:absolute;left:1551.50px;top:808.20px;width:48.50px;height:29.30px;background:linear-gradient(#3a3a3a,#2a2a2a)"></div>
<div style="position:absolute;left:1339.20px;top:812.60px;width:20.00px;height:20.00px;border-radius:50%;background:linear-gradient(#6c6c6c,#8c8c8c 50%,#a6a6a6)"></div>
<div style="position:absolute;left:1385.00px;top:812.60px;width:20.00px;height:20.00px;border-radius:50%;background:linear-gradient(#6c6c6c,#8c8c8c 50%,#a6a6a6)"></div>
<div style="position:absolute;left:1430.00px;top:812.60px;width:20.00px;height:20.00px;border-radius:50%;background:linear-gradient(#6c6c6c,#8c8c8c 50%,#a6a6a6)"></div>
<div style="position:absolute;left:1474.70px;top:812.60px;width:20.00px;height:20.00px;border-radius:50%;background:linear-gradient(#6c6c6c,#8c8c8c 50%,#a6a6a6)"></div>
<div style="position:absolute;left:1519.70px;top:812.60px;width:20.00px;height:20.00px;border-radius:50%;background:linear-gradient(#6c6c6c,#8c8c8c 50%,#a6a6a6)"></div>
<div style="position:absolute;left:1565.50px;top:812.60px;width:20.00px;height:20.00px;border-radius:50%;background:#242424"></div>
<svg style="position:absolute;left:1326px;top:808px" width="274" height="30" viewBox="1326 808 274 30"><rect x="1345.2" y="818.6" width="8" height="8" fill="#222"/><path d="M1391.5 817.5L1399.5 822.6L1391.5 827.7Z" fill="#222"/><path d="M1435.6 818.2V827.6M1435 818.2H1437.5M1435 827.6H1437.5M1444.4 818.2V827.6M1445 818.2H1442.5M1445 827.6H1442.5" stroke="#222" stroke-width="1.5" fill="none"/><rect x="1437.9" y="822.2" width="1.4" height="1.4" fill="#222"/><rect x="1440.7" y="822.2" width="1.4" height="1.4" fill="#222"/><path d="M1484.7 822.6C1482.5 819.5 1478.5 819.5 1478.5 822.6C1478.5 825.7 1482.5 825.7 1484.7 822.6C1487 819.5 1491 819.5 1491 822.6C1491 825.7 1487 825.7 1484.7 822.6Z" stroke="#222" stroke-width="1.8" fill="none"/><path d="M1524.7 821.6A5 5 0 0 1 1533.8 819.8M1534.7 823.6A5 5 0 0 1 1525.6 825.4" stroke="#222" stroke-width="1.8" fill="none"/><path d="M1531.5 817.3L1535.5 817.3L1535.5 821.3Z M1527.9 827.9L1523.9 827.9L1523.9 823.9Z" fill="#222"/><path d="M1571.5 822.5L1574.5 825.8L1580 819.5" stroke="#111" stroke-width="2.4" fill="none"/></svg>
<div style="position:absolute;left:1326.30px;top:839.20px;width:135.50px;height:30.80px;background:linear-gradient(#b2b2b2,#969696 50%,#6c6c6c);border-radius:5px 0 0 0"></div>
<div style="position:absolute;left:1462.80px;top:839.20px;width:136.50px;height:30.80px;background:linear-gradient(#b2b2b2,#969696 50%,#6c6c6c);border-radius:0 5px 0 0"></div>
<div style="position:absolute;left:1346.70px;top:843.40px;width:20.00px;height:20.00px;border-radius:50%;background:linear-gradient(#6c6c6c,#8c8c8c 50%,#a6a6a6)"></div>
<div style="position:absolute;left:1560.20px;top:843.40px;width:20.00px;height:20.00px;border-radius:50%;background:linear-gradient(#6c6c6c,#8c8c8c 50%,#a6a6a6)"></div>
<svg style="position:absolute;left:1340px;top:840px" width="260" height="30" viewBox="1340 840 260 30"><path d="M1355.5 848.5L1351.5 853.4L1355.5 858.3M1360 848.5L1356 853.4L1360 858.3" stroke="#222" stroke-width="1.8" fill="none"/><path d="M1566.5 848.5L1570.5 853.4L1566.5 858.3M1571 848.5L1575 853.4L1571 858.3" stroke="#222" stroke-width="1.8" fill="none"/></svg>
<div class="t" style="left:1383.00px;top:843.35px;font-size:22.38px;color:#262626;transform:scaleX(1.0248);transform-origin:0 0;-webkit-text-stroke:0.7px #262626;">Back</div>
<div class="t" style="left:1490.60px;top:843.35px;font-size:22.38px;color:#262626;transform:scaleX(1.1059);transform-origin:0 0;-webkit-text-stroke:0.7px #262626;">Next</div>
<script>
(function(){
var LOC=[[0.1741, 0.005], [0.174, 0.005], [0.1738, 0.0049], [0.1736, 0.0049], [0.1733, 0.0048], [0.173, 0.0048], [0.1726, 0.0048], [0.1721, 0.0048], [0.1714, 0.0051], [0.1703, 0.0058], [0.1689, 0.0069], [0.1669, 0.0086], [0.1644, 0.0109], [0.1611, 0.0138], [0.1566, 0.0177], [0.151, 0.0227], [0.144, 0.0297], [0.1355, 0.0399], [0.1241, 0.0578], [0.1096, 0.0868], [0.0913, 0.1327], [0.0687, 0.2007], [0.0454, 0.295], [0.0235, 0.4127], [0.0082, 0.5384], [0.0039, 0.6548], [0.0139, 0.7502], [0.0389, 0.812], [0.0743, 0.8338], [0.1142, 0.8262], [0.1547, 0.8059], [0.1929, 0.7816], [0.2296, 0.7543], [0.2658, 0.7243], [0.3016, 0.6923], [0.3373, 0.6589], [0.3731, 0.6245], [0.4087, 0.5896], [0.4441, 0.5547], [0.4788, 0.5202], [0.5125, 0.4866], [0.5448, 0.4544], [0.5752, 0.4242], [0.6029, 0.3965], [0.627, 0.3725], [0.6482, 0.3514], [0.6658, 0.334], [0.6801, 0.3197], [0.6915, 0.3083], [0.7006, 0.2993], [0.7079, 0.292], [0.714, 0.2859], [0.719, 0.2809], [0.723, 0.277], [0.726, 0.274], [0.7283, 0.2717], [0.73, 0.27], [0.7311, 0.2689], [0.732, 0.268], [0.7327, 0.2673], [0.7334, 0.2666], [0.734, 0.266], [0.7344, 0.2656], [0.7346, 0.2654], [0.7347, 0.2653]];
var OX=1047.3,OY=573.4,SX=646.0,SY=530.5;
var cv=document.getElementById('cie');var ctx=cv.getContext('2d');
var CX=1030,CY=115;
function lin2s(c){return c<=0.0031308?12.92*c:1.055*Math.pow(c,1/2.4)-0.055;}
var G=[0.30,0.60],Rd=[0.64,0.33],Bl=[0.15,0.06];
function side(p,a,b){return (b[0]-a[0])*(p[1]-a[1])-(b[1]-a[1])*(p[0]-a[0]);}
function inTri(p){var d1=side(p,Rd,G),d2=side(p,G,Bl),d3=side(p,Bl,Rd);var neg=(d1<0)||(d2<0)||(d3<0),pos=(d1>0)||(d2>0)||(d3>0);return !(neg&&pos);}
function col(x,y){
  if(y<1e-4)y=1e-4;
  var X=x/y,Y=1,Z=(1-x-y)/y;
  var r=3.2406*X-1.5372*Y-0.4986*Z, g=-0.9689*X+1.8758*Y+0.0415*Z, b=0.0557*X-0.2040*Y+1.0570*Z;
  if(r<0)r=0;if(g<0)g=0;if(b<0)b=0;
  var mx=Math.max(r,g,b); r/=mx;g/=mx;b/=mx;
  return [Math.pow(r,GAM),Math.pow(g,GAM),Math.pow(b,GAM)];
}
var GAM=1.0;
function darkf(p){var dx=p[0]-0.3127,dy=p[1]-0.329;var d=Math.sqrt(dx*dx+dy*dy);var v=Math.max(VMIN,Math.min(1,1-VK*(d-0.3)));if(p[0]>0.5)v*=1-1.5*(p[0]-0.5);return (inTri(p)?1:DARK)*v;}
function mapPx(px,py,T){return T(px,py);}
function render(x0,y0,w,h,toXY,clipFn){
  var off=document.createElement('canvas');off.width=w;off.height=h;var oc=off.getContext('2d');
  var id=oc.createImageData(w,h);var d=id.data;
  for(var j=0;j<h;j++)for(var i=0;i<w;i++){
    var p=toXY(x0+i+0.5,y0+j+0.5);var c=col(p[0],p[1]);
    var f=0;for(var si=0;si<4;si++){var q=toXY(x0+i+0.25+0.5*(si&1),y0+j+0.25+0.5*(si>>1));f+=darkf(q);}f/=4;
    var k=(j*w+i)*4;d[k]=255*c[0]*f;d[k+1]=255*c[1]*f;d[k+2]=255*c[2]*f;d[k+3]=255;
  }
  oc.putImageData(id,0,0);return off;
}
var DARK=0.62,VK=1.2,VMIN=0.5;
function locusPath(c,fromXY){
  c.beginPath();
  var P=[];for(var i=0;i<LOC.length;i++){var q=fromXY(LOC[i][0],LOC[i][1]);P.push([q[0]-CX,q[1]-CY]);}
  c.moveTo(P[0][0],P[0][1]);
  for(var i=0;i<P.length-1;i++){
    var p0=P[Math.max(0,i-1)],p1=P[i],p2=P[i+1],p3=P[Math.min(P.length-1,i+2)];
    c.bezierCurveTo(p1[0]+(p2[0]-p0[0])/6,p1[1]+(p2[1]-p0[1])/6,p2[0]-(p3[0]-p1[0])/6,p2[1]-(p3[1]-p1[1])/6,p2[0],p2[1]);
  }
  c.closePath();
}
function toXYmain(px,py){return [(px-OX)/SX,(OY-py)/SY];}
function fromXYmain(x,y){return [OX+x*SX,OY-y*SY];}
var px0=1048,py0=128,pw=542,ph=445;
ctx.fillStyle='#232323';ctx.fillRect(px0-CX,py0-CY,pw,ph);
var img=render(px0,py0,pw,ph,toXYmain);
ctx.save();locusPath(ctx,fromXYmain);ctx.clip();ctx.drawImage(img,px0-CX,py0-CY);ctx.restore();
// markers
function sq(x,y,c,lw){ctx.strokeStyle=c||'#fff';ctx.lineWidth=lw||1.5;ctx.strokeRect(x-CX-6.6,y-CY-6.6,13.2,13.2);}
function ci(x,y,f){ctx.beginPath();ctx.arc(x-CX,y-CY,4.7,0,Math.PI*2);ctx.fillStyle=f;ctx.fill();ctx.lineWidth=1.1;ctx.strokeStyle='#000';ctx.stroke();}
var SQ=[[1240.9, 253.8], [1241.9, 284.9], [1243.9, 312.3], [1245.2, 341.4], [1247.8, 368.7], [1318.5, 303.9], [1303.3, 324.4], [1290.8, 341.4], [1277.5, 359.3], [1262.2, 378.1], [1191.5, 397.9], [1203.1, 397.9], [1214.2, 397.9], [1225.9, 397.9], [1236.7, 397.9], [1290.0, 397.9], [1334.5, 397.9], [1371.9, 397.9], [1413.8, 397.9], [1460.9, 397.9], [1249.7, 416.7], [1250.7, 436.1], [1252.1, 452.9], [1253.4, 470.9], [1254.4, 489.8], [1228.1, 426.5], [1206.5, 454.8], [1186.9, 481.4], [1166.9, 509.0], [1143.9, 540.4]];
var CI=[[1252.5, 248.0, "#12a012"], [1246.4, 274.4, "#58a858"], [1239.4, 312.5, "#6aae6a"], [1232.5, 357.0, "#84b484"], [1228.5, 397.9, "#98b898"], [1303.5, 285.1, "#ccbc00"], [1295.4, 305.2, "#bcb45a"], [1278.4, 336.5, "#bab078"], [1255.4, 375.0, "#bab490"], [1238.4, 404.9, "#c0c0a0"], [1258.1, 421.8, "#c08888"], [1311.4, 413.4, "#c07070"], [1360.2, 404.9, "#c05252"], [1408.4, 398.0, "#c84040"], [1447.4, 391.9, "#d81010"], [1216.5, 428.7, "#a8c0c0"], [1208.5, 431.5, "#90c0c0"], [1199.6, 433.1, "#80c0c0"], [1191.6, 435.5, "#50b8b8"], [1186.5, 438.3, "#20c4c4"], [1221.5, 446.4, "#c4a4c0"], [1219.4, 465.6, "#c094bc"], [1216.3, 484.0, "#bc74b8"], [1213.4, 500.8, "#c058c0"], [1211.4, 516.5, "#c810b8"], [1205.6, 456.8, "#9494b4"], [1187.6, 487.4, "#8484c0"], [1171.4, 513.8, "#6a6ac4"], [1158.6, 534.5, "#4c4cbc"], [1148.3, 550.3, "#0000d8"], [1200.7, 462.1, "#000000"], [1222.5, 429.9, "#ffffff"]];
for(var i=0;i<SQ.length;i++)sq(SQ[i][0],SQ[i][1]);
for(var i=0;i<CI.length;i++)ci(CI[i][0],CI[i][1],CI[i][2]);
// white square with black outline
ctx.fillStyle='rgba(255,255,255,0.0)';
sq(1249.1,398.0,'#000',2.0);
// inset
var IX=1437,IY=128,IW=153,IH=161;
var cx=1513.5,cy=208.7,xc=0.4198,yc=0.5049,S=1900,SYI=S*1.035;
function toXYin(px,py){return [xc+(px-cx)/S,yc-(py-cy)/SYI];}
function fromXYin(x,y){return [cx+(x-xc)*S,cy-(y-yc)*SYI];}
ctx.fillStyle='#232323';ctx.fillRect(IX-CX,IY-CY,IW,IH);
var img2=render(IX,IY,IW,IH,toXYin);
ctx.save();ctx.beginPath();ctx.rect(IX-CX,IY-CY,IW,IH);ctx.clip();locusPath(ctx,fromXYin);ctx.clip();ctx.drawImage(img2,IX-CX,IY-CY);ctx.restore();
ctx.save();ctx.beginPath();ctx.rect(IX-CX,IY-CY,IW,IH);ctx.clip();
sq(1513.5,208.7);sq(1469.8,282.1);ci(1472.4,136.9,'#d4c400');ci(1448.4,212.2,'#c4bc60');
ctx.restore();
ctx.strokeStyle='#9a9a9a';ctx.lineWidth=1.6;ctx.strokeRect(1436.5-CX,127.5-CY,154,162);
})();
</script>
</body></html>
